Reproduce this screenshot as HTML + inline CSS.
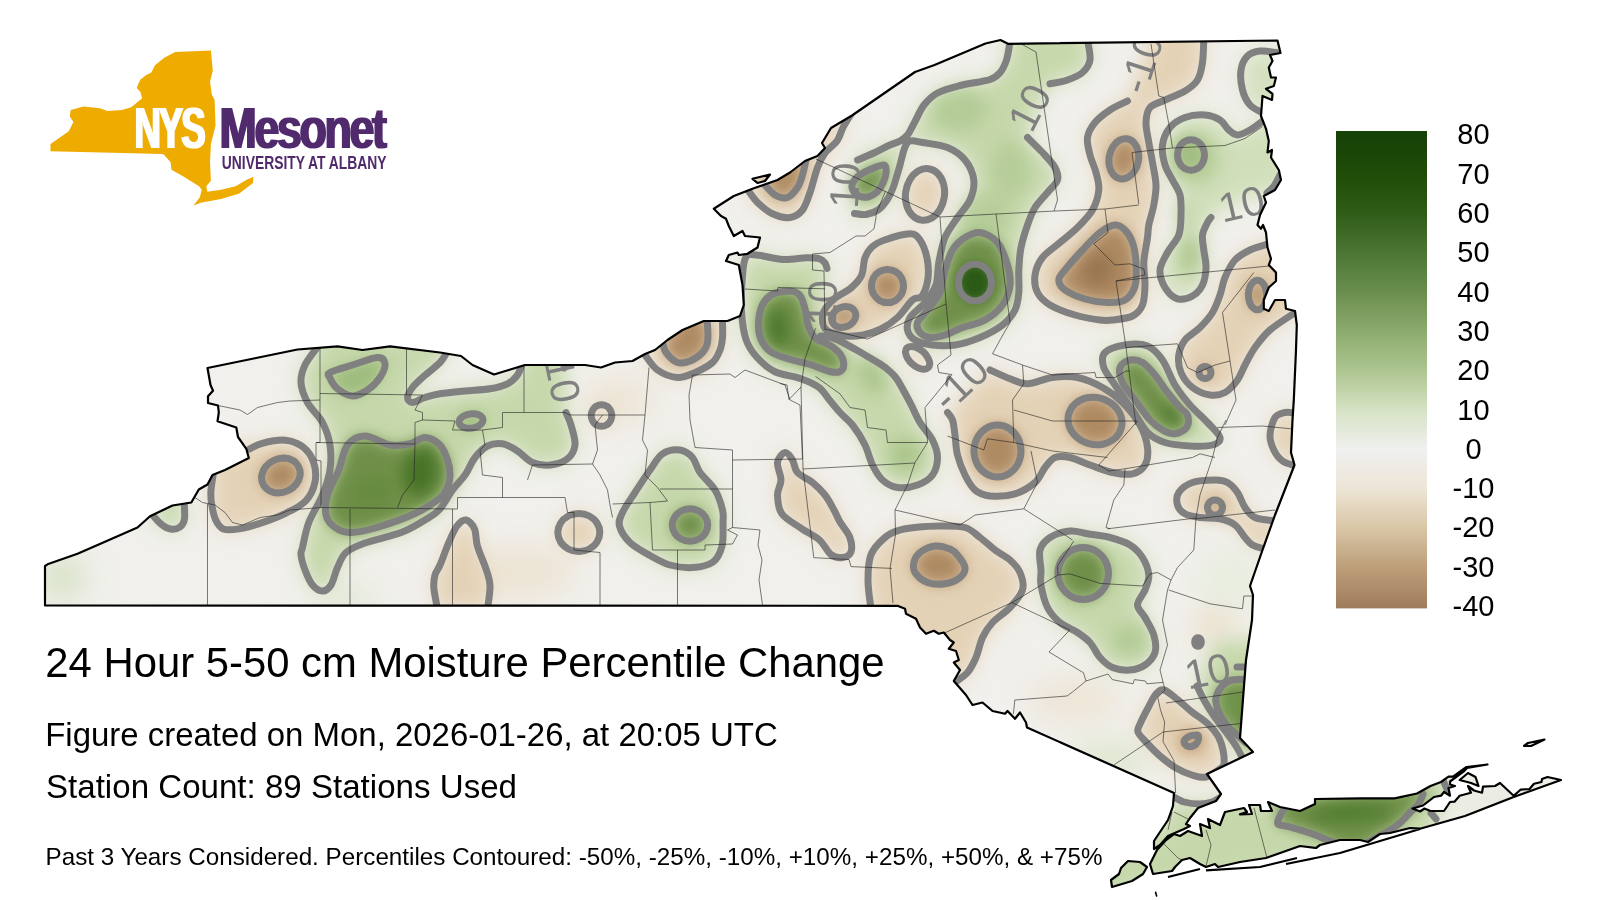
<!DOCTYPE html>
<html><head><meta charset="utf-8"><title>NYS Mesonet 24 Hour 5-50 cm Moisture Percentile Change</title>
<style>html,body{margin:0;padding:0;background:#fff}body{width:1600px;height:900px;overflow:hidden}svg{display:block}text{font-family:"Liberation Sans",sans-serif}</style></head>
<body>
<svg width="1600" height="900" viewBox="0 0 1600 900">
<defs>
<clipPath id="st"><path d="M45 605.5 L45 566 L47.5 564.3 L77.5 553.8 L137.5 527.5 L150 516.3 L172.5 505.5 L191.3 502.5 L198.8 489.5 L207.5 484.5 L212.5 475 L225 470 L248.8 458 L246.3 448.8 L238 437 L236.3 427.5 L217.5 421.3 L218.8 412.5 L218 405.5 L208 403 L208 396.3 L213 390.8 L210.5 385 L207.5 368 L297.5 349.5 L337.5 346.3 L362.5 350 L390 346.3 L440 352.5 L461 356 L472.5 365 L494 374.5 L525 365 L585 365 L601 367.5 L615 362.5 L632.5 361 L645 354 L655 350 L667.5 340 L682.5 330 L703.8 321 L727.5 321 L740 316 L743.8 305 L742.5 285 L738.8 265 L726 261 L728.8 255 L737.5 252.5 L738.8 255 L747.5 253.8 L757.5 247.5 L760 237.5 L745 236 L742.5 231 L733.8 236 L728.8 226 L726 218.8 L721 216 L713.8 208.8 L733.8 196 L752.5 188.8 L777.5 180 L790 172.5 L805 161 L817.5 156 L825 148 L822 143 L831 128 L852 115.5 L915 72 L934.5 65 L985.5 43.5 L1000.5 40 L1008 43.8 L1277.5 40.5 L1280.5 53 L1270 55 L1272.5 61 L1268.8 67.5 L1271 77.5 L1276 77.5 L1273.8 86 L1266 88.8 L1272.5 93.8 L1272 100 L1262.5 96 L1261 116 L1266 128.8 L1268.8 141 L1267.5 152.5 L1272 150 L1271 157.5 L1278.8 170 L1281 180 L1275 190 L1263.8 196 L1266 202.5 L1260 215 L1257.5 225 L1261 228.8 L1263 225 L1266 232.5 L1267.5 247.5 L1271 258.8 L1268.8 265 L1276 272.5 L1276 281 L1268.8 287.5 L1263.8 300 L1263.8 308.8 L1268.8 311 L1275 300 L1285 300 L1286 308.8 L1295 311 L1296.8 325 L1296 350 L1293.8 400 L1292.5 420 L1291 452.5 L1294.5 465 L1275 515 L1262.5 550 L1250 586 L1253 595 L1252 620 L1246 660 L1240 738 L1253 752 L1207 774 L1221 794 L1216 801 L1198 808 L1190 818 L1186 824 L1190 826 L1184 829 L1168 836 L1160 845 L1154 849 L1154 841 L1168 820 L1173 806 L1174 793 L1027 727.5 L1026 722.5 L1020 712.5 L1015 718.8 L1007.5 711 L1005 713.8 L992.5 711 L982.5 702.5 L972.5 705 L966 695 L953.8 681 L960 670 L953.8 662.5 L958.8 660 L956 651 L948.8 648.8 L953.8 642.5 L950 640 L943.8 632.5 L938.8 633.8 L933.8 630.8 L926 633.8 L920 627.5 L916 618.8 L906 613.8 L905 608.8 L897.5 605.8ZM1153 874 L1150 864 L1157 850 L1166 840 L1174 834 L1180 836 L1188 831 L1202 836 L1200 824 L1210 828 L1208 819 L1220 825 L1225 812 L1244 808 L1247 812 L1240 814.4 L1252 814 L1249 805 L1260 805 L1261 811 L1272 811 L1268 802 L1280 807 L1300 811 L1315 804 L1315 799 L1360 798.3 L1394.5 798.3 L1417 793.5 L1430.5 786 L1441 782 L1448.5 776.7 L1453 776.7 L1466.5 767 L1487.5 764.5 L1467 768 L1463.5 771.7 L1450 781.5 L1450 784.5 L1455 786 L1448.5 788 L1450 795.7 L1444 792 L1441 795.7 L1434 797 L1423 805.5 L1412.5 808.5 L1420 811.5 L1424.5 808.5 L1430.5 811 L1444 811 L1450 802 L1454.5 801.7 L1459.7 795.7 L1471 792.7 L1468 786 L1474 790.5 L1482 792.7 L1483 786.7 L1495 786 L1500 783 L1513.7 795.7 L1520.5 789.7 L1529.5 789 L1534 783.7 L1541.5 782 L1542 779 L1547.5 777 L1561 780 L1513.7 797 L1465 816 L1420 828.7 L1410 828 L1390 833 L1380 834 L1368 842 L1360 840 L1340 840 L1320 845 L1316 848 L1300 846 L1266 858 L1240 862 L1218 867 L1215 864 L1206 867 L1200 864 L1190 858 L1182 860 L1175 867 L1172 871ZM1459.7 780 L1468 773 L1475.5 777 L1478.5 786 L1471 783ZM1524 746 L1528 743 L1544.5 739.5 L1531 746ZM1111 880 L1119 874 L1121 868 L1128 861 L1140 862 L1147 867 L1143 874 L1132 881 L1112 887ZM752.5 178.8 L770 174.5 L765 181 L757.5 183Z"/></clipPath>
<filter id="b10" x="0" y="0" width="1600" height="900" filterUnits="userSpaceOnUse"><feGaussianBlur stdDeviation="10"/></filter>
<filter id="b25" x="0" y="0" width="1600" height="900" filterUnits="userSpaceOnUse"><feGaussianBlur stdDeviation="7.5"/></filter>
<filter id="b50" x="0" y="0" width="1600" height="900" filterUnits="userSpaceOnUse"><feGaussianBlur stdDeviation="5"/></filter>
<filter id="bm10" x="0" y="0" width="1600" height="900" filterUnits="userSpaceOnUse"><feGaussianBlur stdDeviation="10"/></filter>
<filter id="bm25" x="0" y="0" width="1600" height="900" filterUnits="userSpaceOnUse"><feGaussianBlur stdDeviation="7.5"/></filter>
<filter id="bx" x="0" y="0" width="1600" height="900" filterUnits="userSpaceOnUse"><feGaussianBlur stdDeviation="14"/></filter>
<linearGradient id="cb" x1="0" y1="0" x2="0" y2="1">
<stop offset="0.0082" stop-color="#164208"/>
<stop offset="0.0905" stop-color="#1f4d08"/>
<stop offset="0.1728" stop-color="#2f5d18"/>
<stop offset="0.2551" stop-color="#4c7634"/>
<stop offset="0.3374" stop-color="#6a8e4e"/>
<stop offset="0.4198" stop-color="#8cab6e"/>
<stop offset="0.5021" stop-color="#adc590"/>
<stop offset="0.5844" stop-color="#d6e2c4"/>
<stop offset="0.6667" stop-color="#f0f0f0"/>
<stop offset="0.7490" stop-color="#ede5d6"/>
<stop offset="0.8313" stop-color="#d9c6a6"/>
<stop offset="0.9136" stop-color="#bd9f7a"/>
<stop offset="0.9959" stop-color="#a07d5c"/>
</linearGradient>
</defs>
<rect width="1600" height="900" fill="#fff"/>
<g clip-path="url(#st)">
<rect width="1600" height="900" fill="#f1f0ec"/>
<g filter="url(#bx)">
<ellipse cx="62" cy="578" rx="22" ry="22" fill="#d3e0c0" opacity="0.9"/>
<ellipse cx="520" cy="572" rx="55" ry="25" fill="#ece2d0" opacity="0.9"/>
<ellipse cx="620" cy="400" rx="35" ry="22" fill="#ece2d0" opacity="0.8"/>
<ellipse cx="960" cy="610" rx="45" ry="30" fill="#ece2d0" opacity="0.7"/>
<ellipse cx="1075" cy="700" rx="45" ry="22" fill="#ece2d0" opacity="0.8"/>
<ellipse cx="1215" cy="625" rx="22" ry="18" fill="#ecdfca" opacity="0.9"/>
<ellipse cx="690" cy="505" rx="30" ry="25" fill="#d9e4c8" opacity="0.5"/>
<ellipse cx="1110" cy="760" rx="40" ry="18" fill="#dbe5cb" opacity="0.9"/>
<ellipse cx="345" cy="600" rx="30" ry="12" fill="#dbe5cb" opacity="0.8"/>
<ellipse cx="1230" cy="580" rx="30" ry="30" fill="#e4ecd8" opacity="0.7"/>
<ellipse cx="1500" cy="800" rx="70" ry="20" fill="#e9ebe1" opacity="1"/>
</g>
<path filter="url(#b10)" fill="#c6d8ab" fill-rule="evenodd" d="M150 512C151.8 514 157.6 521.2 161 524C164.4 526.8 167.3 528.5 170.5 529C173.7 529.5 177.7 528.7 180 527C182.3 525.3 183.8 523.5 184.5 519C185.2 514.5 184.1 503.2 184 500L170 490ZM317.5 347C315.4 350 307.8 359.1 305 365C302.2 370.9 300.6 376.2 301 382.5C301.4 388.8 303.9 395.8 307.5 402.5C311.1 409.2 318.8 415.4 322.5 422.5C326.2 429.6 328.8 437.1 330 445C331.2 452.9 331.2 461.7 330 470C328.8 478.3 326 486.2 322.5 495C319 503.8 312.1 513.8 308.8 522.5C305.5 531.2 303.8 542.1 302.5 547.5C301.2 552.9 300.6 551.2 301 555C301.4 558.8 303.1 565 305 570C306.9 575 309.6 581.5 312.5 585C315.4 588.5 319.4 591 322.5 591C325.6 591 328.5 588.9 331 585C333.5 581.1 335 572.9 337.5 567.5C340 562.1 341.4 556.6 346 552.5C350.6 548.4 355.6 546.4 365 543C374.4 539.6 392.1 536.1 402.5 532C412.9 527.9 421.2 522.3 427.5 518.5C433.8 514.7 435.8 513.8 440 509C444.2 504.2 448.3 495.7 452.5 490C456.7 484.3 461.2 480.4 465 475C468.8 469.6 471.2 462.3 475 457.5C478.8 452.7 482.9 448.3 487.5 446C492.1 443.7 497.5 443 502.5 443.8C507.5 444.6 512.5 447.9 517.5 451C522.5 454.1 527.1 460.2 532.5 462.5C537.9 464.8 544.2 465.6 550 465C555.8 464.4 563.3 462.1 567.5 458.8C571.7 455.5 574.4 450.6 575 445C575.6 439.4 572.5 430.4 571 425C569.5 419.6 566.8 414.6 566 412.5L565 340L317 330ZM447 352 L440 362.5 L422.5 377.5 L412.5 387.5 L407.5 397.5 L412.5 402.5 L425 397.5 L440 393.8 L465 391 L490 388.8 L507.5 383.8 L517.5 375 L522 364 L522 340 L447 335ZM827 268.5C826.7 267.6 826.3 264.6 825 263C823.7 261.4 822.1 259.6 819 258.7C815.9 257.8 812.5 257.7 806.5 257.8C800.5 257.9 791.3 260 783 259.5C774.7 259 762.9 255.4 756.7 255C750.5 254.6 748.4 253.6 746 257C743.6 260.4 743.2 266.5 742.5 275.5C741.8 284.5 740.9 300.3 741.5 311C742.1 321.7 743.5 331.8 746 339.5C748.5 347.2 752 351.7 756.7 357C761.5 362.3 767.1 367.9 774.5 371.5C781.9 375.1 793.6 376 801 378.7C808.4 381.4 814.2 383.9 819 387.5C823.8 391.1 826 395.8 829.5 400C833 404.2 836.2 408.3 840 412.5C843.8 416.7 848.3 419.6 852.5 425C856.7 430.4 861.7 438.3 865 445C868.3 451.7 869.6 459.2 872.5 465C875.4 470.8 878.3 476.2 882.5 480C886.7 483.8 891.7 486.7 897.5 487.5C903.3 488.3 911.7 487.1 917.5 485C923.3 482.9 929.2 479.6 932.5 475C935.8 470.4 937.5 463.3 937.5 457.5C937.5 451.7 935.4 445.8 932.5 440C929.6 434.2 923.8 428.8 920 422.5C916.2 416.2 913.8 409.6 910 402.5C906.2 395.4 900.8 385.2 897.5 380C894.2 374.8 892.8 374.1 890 371.5C887.2 368.9 885.5 367.4 881 364.5C876.5 361.6 869.2 357.4 863 353.8C856.8 350.2 849.4 345.8 843.8 343C838.2 340.2 833.4 338.2 829.5 337C825.6 335.8 822.2 336.2 820.7 336ZM680 450C675 449.4 667.5 450.5 662.5 453.8C657.5 457.1 654.6 463.6 650 470C645.4 476.4 639.6 485.4 635 492.5C630.4 499.6 625.1 506.9 622.5 512.5C619.9 518.1 618.2 521 619.5 526C620.8 531 624.9 537.6 630 542.5C635.1 547.4 643.3 551.8 650 555.5C656.7 559.2 662.8 563 670 565C677.2 567 685.8 568 693 567.5C700.2 567 708.2 565.6 713 562C717.8 558.4 720.3 552.5 722 546C723.7 539.5 722.9 529 723 523C723.1 517 723.8 515.5 722.5 510C721.2 504.5 718.8 496.2 715 490C711.2 483.8 703.8 477.9 700 472.5C696.2 467.1 695.8 461.2 692.5 457.5C689.2 453.8 685 450.6 680 450ZM1010 40C1009.9 42.5 1010.1 41.7 1009.5 45C1008.9 48.3 1008 55.5 1006.5 60C1005 64.5 1003.2 68.8 1000.5 72C997.8 75.2 996.8 77.2 990 79.5C983.2 81.8 968.8 83.2 960 85.5C951.2 87.8 943.5 89.8 937.5 93C931.5 96.2 927.8 100.2 924 105C920.2 109.8 917.8 116.5 915 121.5C912.2 126.5 910 131.8 907.5 135C905 138.2 899.5 140 900 141C900.5 142 906.8 140.8 910.5 141C914.2 141.2 916.3 141.4 922.5 142.5C928.7 143.6 940.4 144.6 947.5 147.5C954.6 150.4 960.6 154.6 965 160C969.4 165.4 973 173.3 973.8 180C974.6 186.7 972.7 193.8 970 200C967.3 206.2 961.7 211.2 957.5 217.5C953.3 223.8 948.1 230 945 237.5C941.9 245 940.3 254.6 938.8 262.5C937.3 270.4 938.3 278.3 936 285C933.7 291.7 929.3 297.1 925 302.5C920.7 307.9 912.9 312.9 910 317.5C907.1 322.1 906.7 326.2 907.5 330C908.3 333.8 910.8 337.5 915 340C919.2 342.5 925.8 344.2 932.5 345C939.2 345.8 947.1 346.2 955 345C962.9 343.8 972.1 340.8 980 337.5C987.9 334.2 996.7 329.6 1002.5 325C1008.3 320.4 1012.3 315.4 1015 310C1017.7 304.6 1018.2 299.2 1018.8 292.5C1019.4 285.8 1018.4 277.5 1018.8 270C1019.2 262.5 1019.5 255 1021 247.5C1022.5 240 1025.2 231.7 1027.5 225C1029.8 218.3 1031.7 212.9 1035 207.5C1038.3 202.1 1043.8 197.1 1047.5 192.5C1051.2 187.9 1056.2 184.2 1057.5 180C1058.8 175.8 1057.5 172.1 1055 167.5C1052.5 162.9 1047.1 157.5 1042.5 152.5C1037.9 147.5 1026.2 148.9 1027.5 137.5C1028.8 126 1043.3 93.4 1050 83.8C1056.7 74.2 1062.1 81.9 1067.5 80C1072.9 78.1 1078.8 75.8 1082.5 72.5C1086.2 69.2 1089.2 65.4 1090 60C1090.8 54.6 1087.8 45 1087.5 40C1087.2 35 1100.9 31.7 1088 30C1075.1 28.3 1023 28.3 1010 30C997 31.7 1010.1 37.5 1010 40ZM857.5 160C860.9 149.8 869.6 155 875 152.5C880.4 150 885.8 146.9 890 145C894.2 143.1 897.1 142.7 900 141C902.9 139.3 906.7 134 907.5 135C908.3 136 906.2 142 905 147C903.8 152 901.4 160 900 165C898.6 170 897.7 173.2 896.5 177C895.3 180.8 894.6 184.2 893 188C891.4 191.8 889.5 196.3 887 200C884.5 203.7 881.5 207.6 878 210C874.5 212.4 869.9 213.9 866 214.5C862.1 215.1 855.9 222.6 854.5 213.5C853.1 204.4 854.1 170.2 857.5 160ZM1125 345C1132.1 343.9 1141.2 343.5 1147.5 346C1153.8 348.5 1157.9 353.5 1162.5 360C1167.1 366.5 1170.4 377.5 1175 385C1179.6 392.5 1184.6 398.8 1190 405C1195.4 411.2 1202.5 417.1 1207.5 422.5C1212.5 427.9 1219.2 433.8 1220 437.5C1220.8 441.2 1217.5 443.6 1212.5 445C1207.5 446.4 1197.9 446.4 1190 446C1182.1 445.6 1172.1 444.8 1165 442.5C1157.9 440.2 1152.9 437.9 1147.5 432.5C1142.1 427.1 1137.9 417.9 1132.5 410C1127.1 402.1 1119.8 392.1 1115 385C1110.2 377.9 1105.5 372.9 1103.8 367.5C1102.1 362.1 1101.5 356.2 1105 352.5C1108.5 348.8 1117.9 346.1 1125 345ZM1070 531C1063.8 531.6 1055 534.3 1050 537.5C1045 540.7 1041.5 544.6 1040 550C1038.5 555.4 1040.8 564.2 1041 570C1041.2 575.8 1039.9 578.8 1041 585C1042.1 591.2 1044.3 601.2 1047.5 607.5C1050.7 613.8 1055 618.3 1060 622.5C1065 626.7 1072.5 629.2 1077.5 632.5C1082.5 635.8 1086.2 638.3 1090 642.5C1093.8 646.7 1096.2 653.3 1100 657.5C1103.8 661.7 1107.5 665.4 1112.5 667.5C1117.5 669.6 1124.6 670.4 1130 670C1135.4 669.6 1140.8 667.9 1145 665C1149.2 662.1 1153.5 657.5 1155 652.5C1156.5 647.5 1155.5 640.8 1153.8 635C1152.1 629.2 1147.7 622.5 1145 617.5C1142.3 612.5 1137.5 609.6 1137.5 605C1137.5 600.4 1143.1 595 1145 590C1146.9 585 1149.2 580.4 1148.8 575C1148.4 569.6 1145.6 562.5 1142.5 557.5C1139.4 552.5 1135.4 548.3 1130 545C1124.6 541.7 1117.1 539.4 1110 537.5C1102.9 535.6 1094.2 534.9 1087.5 533.8C1080.8 532.7 1076.2 530.4 1070 531ZM1197 686C1198.2 688.3 1201.2 695 1204 700C1206.8 705 1210.3 710.7 1214 716C1217.7 721.3 1222.3 727 1226 732C1229.7 737 1233.2 741.5 1236 746C1238.8 750.5 1241.8 756.8 1243 759L1300 760L1300 640L1215 640L1205 665ZM1172 796C1174 797 1179.3 800.7 1184 802C1188.7 803.3 1195.3 804 1200 804C1204.7 804 1208.5 803.2 1212 802C1215.5 800.8 1219.5 797.8 1221 797L1260 800L1400 780L1447 770L1447 795L1436 815L1436 835L1380 860L1090 900L1090 850L1160 830Z"/>
<path filter="url(#b10)" fill="#d0dfba" fill-rule="evenodd" d="M1264 120C1261.7 121.7 1254.4 127.5 1250 130C1245.6 132.5 1241 135 1237.5 135C1234 135 1231.7 132.5 1228.8 130C1225.9 127.5 1224 122.5 1220 120C1216 117.5 1210.8 115.4 1205 115C1199.2 114.6 1190.8 115.4 1185 117.5C1179.2 119.6 1173.8 122.9 1170 127.5C1166.2 132.1 1163.3 138.8 1162.5 145C1161.7 151.2 1163.3 159.2 1165 165C1166.7 170.8 1170 175 1172.5 180C1175 185 1178.6 189.2 1180 195C1181.4 200.8 1181.2 208.3 1181 215C1180.8 221.7 1181 228.8 1178.8 235C1176.5 241.2 1170.6 246.7 1167.5 252.5C1164.4 258.3 1160.4 264.2 1160 270C1159.6 275.8 1162.1 282.7 1165 287.5C1167.9 292.3 1172.9 297.4 1177.5 298.8C1182.1 300.2 1188.3 298.3 1192.5 296C1196.7 293.7 1200.2 289.8 1202.5 285C1204.8 280.2 1205.8 273.3 1206 267.5C1206.2 261.7 1204.4 255.4 1203.8 250C1203.2 244.6 1201.9 239.6 1202.5 235C1203.1 230.4 1206.1 225.4 1207.5 222.5C1208.9 219.6 1210.4 218.3 1211 217.5L1240 200L1290 188L1290 120Z"/>
<path filter="url(#b10)" fill="#d4e1c0" fill-rule="evenodd" d="M1276 52.5C1273.3 52.2 1264.8 50.4 1260 51C1255.2 51.6 1250.7 52.8 1247.5 56C1244.3 59.2 1241.8 64.3 1241 70C1240.2 75.7 1241 84.2 1242.5 90C1244 95.8 1246.6 101.2 1250 105C1253.4 108.8 1260.8 111.7 1263 113L1290 110L1290 50Z"/>
<path filter="url(#bm10)" fill="#e4d2b6" fill-rule="evenodd" d="M213 475.5C212.7 478.2 211.1 486.8 210.9 491.5C210.7 496.2 210.8 499.3 211.6 504C212.4 508.7 213.6 515.4 215.5 519.5C217.4 523.6 219.4 527.3 223.3 528.9C227.2 530.5 232.4 529.9 238.9 528.9C245.4 527.9 254.4 525.2 262.2 522.6C270 520 278.2 516.9 285.5 513.3C292.8 509.7 300.8 506.1 305.7 500.9C310.6 495.7 313.7 488.5 315 482C316.3 475.5 315.5 467.8 313.5 462C311.5 456.2 307.7 450.6 303 447C298.3 443.4 292.3 440.8 285.5 440.2C278.7 439.6 268.2 441.8 262.2 443.3C256.2 444.8 251.6 448.1 249.5 449L252 440L225 455L205 470ZM611.8 415.5C611.8 417.3 611.3 419.3 610.4 420.9C609.6 422.5 608.1 424 606.6 424.9C605.2 425.8 603.2 426.3 601.5 426.3C599.8 426.3 597.8 425.8 596.4 424.9C594.9 424 593.4 422.5 592.6 420.9C591.7 419.3 591.2 417.3 591.2 415.5C591.2 413.7 591.7 411.7 592.6 410.1C593.4 408.5 594.9 407 596.4 406.1C597.8 405.2 599.8 404.7 601.5 404.7C603.2 404.7 605.2 405.2 606.6 406.1C608.1 407 609.6 408.5 610.4 410.1C611.3 411.7 611.8 413.7 611.8 415.5ZM645 355C647.1 357.5 652.1 366.2 657.5 370C662.9 373.8 671.2 377.1 677.5 377.5C683.8 377.9 689.2 375 695 372.5C700.8 370 708.3 366.2 712.5 362.5C716.7 358.8 718.3 354.2 720 350C721.7 345.8 722.1 342.1 722.5 337.5C722.9 332.9 722.6 326.1 722.5 322.5C722.4 318.9 722.1 317.1 722 316L680 310ZM599.8 532.5C599.8 535.7 598.7 539.3 597 542C595.2 544.8 592.3 547.4 589.3 549C586.3 550.6 582.3 551.6 578.8 551.6C575.3 551.6 571.3 550.6 568.3 549C565.3 547.4 562.4 544.8 560.6 542C558.9 539.3 557.8 535.7 557.8 532.5C557.8 529.3 558.9 525.7 560.6 523C562.4 520.2 565.3 517.6 568.3 516C571.3 514.4 575.3 513.4 578.8 513.4C582.3 513.4 586.3 514.4 589.3 516C592.3 517.6 595.2 520.2 597 523C598.7 525.7 599.8 529.3 599.8 532.5ZM437.5 609C436.9 605.4 434.2 593.2 433.8 587.5C433.4 581.8 434 578.8 435 575C436 571.2 437.7 570.3 440 565C442.3 559.7 445.8 549.5 448.6 543C451.4 536.5 454.1 529.8 457 526C459.9 522.2 463.1 519.5 466 520C468.9 520.5 472.6 524.5 474.5 528.8C476.4 533.1 475.5 539.3 477.4 546C479.3 552.7 483.9 562.3 486 569C488.1 575.7 489.8 579.3 490 586C490.2 592.7 487.9 605.2 487.5 609ZM785 452.5C782.5 452.9 778.2 457.9 777.5 462.5C776.8 467.1 781 474.6 781 480C781 485.4 777.3 489.3 777.5 495C777.7 500.7 777.9 508.4 782 514C786.1 519.6 795.8 524.5 802 528.8C808.2 533.1 814.7 535.7 819.5 540C824.3 544.3 827.2 551.7 831 554.6C834.8 557.5 839.2 558 842.5 557.5C845.8 557 849.8 555.2 851 551.8C852.2 548.4 851.5 542 849.7 537C847.9 532 842.6 526.5 840 522C837.4 517.5 836.5 514.5 834 510C831.5 505.5 828.6 499.6 825 495C821.4 490.4 817.1 486.2 812.5 482.5C807.9 478.8 800.8 476.2 797.5 472.5C794.2 468.8 794.6 463.3 792.5 460C790.4 456.7 787.5 452.1 785 452.5ZM747 189C748.8 191.2 753.2 198.4 757.5 202.5C761.8 206.6 767.1 211.3 772.5 213.8C777.9 216.3 785 218.1 790 217.5C795 216.9 799.2 214.2 802.5 210C805.8 205.8 807.5 199.6 810 192.5C812.5 185.4 815 174.1 817.5 167.5C820 160.9 821.8 157.4 825 153C828.2 148.6 834 145.2 837 141C840 136.8 840.7 132 843 127.5C845.3 123 849.7 116.2 851 114L780 140ZM944.3 197.1C943.7 201.4 942 206.1 939.9 209.6C937.8 213.1 934.6 216.3 931.5 218.1C928.4 219.8 924.6 220.6 921.4 220.1C918.2 219.7 914.7 217.9 912.2 215.3C909.7 212.8 907.6 208.9 906.5 204.9C905.4 201 905.1 196 905.7 191.7C906.3 187.4 908 182.7 910.1 179.2C912.2 175.7 915.4 172.5 918.5 170.7C921.6 169 925.4 168.2 928.6 168.7C931.8 169.1 935.3 170.9 937.8 173.5C940.3 176 942.4 179.9 943.5 183.9C944.6 187.8 944.9 192.8 944.3 197.1ZM910 233.8C904.1 233.8 891 237.8 884.7 240C878.4 242.2 875.3 244 872 247C868.7 250 866.8 253.1 865 257.8C863.2 262.6 863.8 270.5 861.5 275.5C859.2 280.5 855.1 284.4 851 288C846.9 291.6 840.9 293.8 836.7 297C832.5 300.2 828.4 304.2 826 307.5C823.6 310.8 822.8 313.2 822.5 316.5C822.2 319.8 822.6 324.3 824 327C825.4 329.7 827.4 331 831 332.5C834.6 334 840.2 335.6 845.5 336C850.8 336.4 857.1 336.2 863 335C868.9 333.8 875.2 331.9 881 329C886.8 326.1 892.2 322.3 897.5 317.5C902.8 312.7 908.4 303.6 912.5 300C916.6 296.4 919.4 299.7 922 296C924.6 292.3 927.2 284.3 928 278C928.8 271.7 928.3 264.3 927 258C925.7 251.7 922.8 244 920 240C917.2 236 915.9 233.8 910 233.8ZM928.4 367.5C927.5 368.5 925.9 369.2 924.2 369.2C922.5 369.3 920.2 368.8 918.2 367.9C916.2 367 913.9 365.5 912.1 363.9C910.3 362.3 908.6 360.1 907.5 358.2C906.4 356.3 905.6 354.1 905.5 352.4C905.4 350.8 905.9 349.1 906.8 348.1C907.7 347.1 909.3 346.4 911 346.4C912.7 346.3 915 346.8 917 347.7C919 348.6 921.3 350.1 923.1 351.7C924.9 353.3 926.6 355.5 927.7 357.4C928.8 359.3 929.6 361.5 929.7 363.2C929.8 364.8 929.3 366.5 928.4 367.5ZM1127.5 101C1124.6 102.5 1115.4 106.4 1110 110C1104.6 113.6 1098.8 117.9 1095 122.5C1091.2 127.1 1088.3 132.1 1087.5 137.5C1086.7 142.9 1088.6 149.2 1090 155C1091.4 160.8 1094.5 166.7 1096 172.5C1097.5 178.3 1099.4 183.8 1098.8 190C1098.2 196.2 1096 203.8 1092.5 210C1089 216.2 1082.9 222.1 1077.5 227.5C1072.1 232.9 1065.8 237.5 1060 242.5C1054.2 247.5 1046.7 252.1 1042.5 257.5C1038.3 262.9 1035.8 269.2 1035 275C1034.2 280.8 1035 287.5 1037.5 292.5C1040 297.5 1043.8 301.2 1050 305C1056.2 308.8 1066.7 312.5 1075 315C1083.3 317.5 1093.8 319.2 1100 320C1106.2 320.8 1107.1 320.7 1112.5 320C1117.9 319.3 1127.5 318.5 1132.5 316C1137.5 313.5 1140.4 310.2 1142.5 305C1144.6 299.8 1144.8 292.1 1145 285C1145.2 277.9 1143.4 270.4 1143.8 262.5C1144.2 254.6 1146.7 243.8 1147.5 237.5C1148.3 231.2 1147.8 230.4 1148.8 225C1149.8 219.6 1152.6 211.7 1153.8 205C1155 198.3 1156.2 192.1 1156 185C1155.8 177.9 1153.7 169.6 1152.5 162.5C1151.3 155.4 1149.9 149.2 1148.8 142.5C1147.7 135.8 1145.8 128.3 1146 122.5C1146.2 116.7 1146.8 111.2 1150 107.5C1153.2 103.8 1159.2 102.8 1165 100C1170.8 97.2 1179.6 94.3 1185 91C1190.4 87.7 1194.6 84.8 1197.5 80C1200.4 75.2 1201.5 69.5 1202.5 62.5C1203.5 55.5 1203.6 42.1 1203.8 38L1203 25L1150 25L1150 44ZM1268 244C1265 245 1255.5 247.3 1250 250C1244.5 252.7 1239.2 255.4 1235 260C1230.8 264.6 1227.5 271.7 1225 277.5C1222.5 283.3 1222.1 289.2 1220 295C1217.9 300.8 1215.8 307.1 1212.5 312.5C1209.2 317.9 1204.6 322.9 1200 327.5C1195.4 332.1 1188.5 335.4 1185 340C1181.5 344.6 1179.5 349.6 1178.8 355C1178.1 360.4 1178.7 367.1 1181 372.5C1183.3 377.9 1187.7 383.8 1192.5 387.5C1197.3 391.2 1204.6 394.2 1210 395C1215.4 395.8 1220.4 395 1225 392.5C1229.6 390 1234.2 384.6 1237.5 380C1240.8 375.4 1242.1 370.4 1245 365C1247.9 359.6 1250.8 353.3 1255 347.5C1259.2 341.7 1263.2 335.9 1270 330C1276.8 324.1 1291.7 315 1296 312L1310 300L1300 240ZM947.5 412.5C948.3 413.8 951.2 416.2 952.5 420C953.8 423.8 954.2 429.2 955 435C955.8 440.8 955.8 448.3 957.5 455C959.2 461.7 962.1 469.2 965 475C967.9 480.8 970.8 486.5 975 490C979.2 493.5 983.3 495.4 990 496C996.7 496.6 1007.5 496.1 1015 493.8C1022.5 491.6 1030 486.9 1035 482.5C1040 478.1 1041.7 471.7 1045 467.5C1048.3 463.3 1050.8 459.2 1055 457.5C1059.2 455.8 1064.2 456.2 1070 457.5C1075.8 458.8 1082.9 462.5 1090 465C1097.1 467.5 1105.4 471 1112.5 472.5C1119.6 474 1127.1 475.1 1132.5 473.8C1137.9 472.6 1142.5 469.4 1145 465C1147.5 460.6 1148.3 454.2 1147.5 447.5C1146.7 440.8 1144.2 432.5 1140 425C1135.8 417.5 1128.8 408.8 1122.5 402.5C1116.2 396.2 1110 391.7 1102.5 387.5C1095 383.3 1085.8 379.2 1077.5 377.5C1069.2 375.8 1060.8 376.4 1052.5 377.5C1044.2 378.6 1034.6 383.6 1027.5 383.8C1020.4 384 1016.2 381.1 1010 378.8C1003.8 376.5 993.3 371.5 990 370ZM1264 549C1262.1 548.3 1255.7 546.9 1252.5 545C1249.3 543.1 1247.9 540.8 1245 537.5C1242.1 534.2 1239.2 528.1 1235 525C1230.8 521.9 1225.8 520 1220 518.8C1214.2 517.5 1205.8 518.3 1200 517.5C1194.2 516.7 1188.8 515.9 1185 513.8C1181.2 511.7 1178.5 508.6 1177.5 505C1176.5 501.4 1176.3 496.2 1178.8 492.5C1181.3 488.8 1186.5 484.6 1192.5 482.5C1198.5 480.4 1209.2 480 1215 480C1220.8 480 1223.8 480.4 1227.5 482.5C1231.2 484.6 1234.6 488.3 1237.5 492.5C1240.4 496.7 1242.1 503.3 1245 507.5C1247.9 511.7 1250 515.2 1255 517.5C1260 519.8 1271.7 520.4 1275 521L1290 535ZM1296 413C1294.2 412.9 1288.5 411.8 1285 412.5C1281.5 413.2 1277.5 413.8 1275 417.5C1272.5 421.2 1270.2 429.6 1270 435C1269.8 440.4 1271.7 445.7 1273.8 450C1275.9 454.3 1278.8 458.3 1282.5 461C1286.2 463.7 1293.8 465.2 1296 466L1310 440ZM871 609C870.5 604.2 868 589.6 868 580.5C868 571.4 868.1 561.9 871 554.6C873.9 547.4 880.8 541.1 885.6 537C890.4 532.9 895.1 531.6 900 530C904.9 528.4 908.3 528.2 915 527.5C921.7 526.8 931.7 526 940 526C948.3 526 958.3 525.6 965 527.5C971.7 529.4 975 533.8 980 537.5C985 541.2 990 546.2 995 550C1000 553.8 1005.8 556.2 1010 560C1014.2 563.8 1017.9 567.5 1020 572.5C1022.1 577.5 1024.2 584.2 1022.5 590C1020.8 595.8 1015 602.1 1010 607.5C1005 612.9 997.1 617.5 992.5 622.5C987.9 627.5 985.2 631.7 982.5 637.5C979.8 643.3 978.5 651.7 976 657.5C973.5 663.3 971.2 668.2 967.5 672.5C963.8 676.8 956.2 681.2 954 683L900 690ZM1164 690C1160.3 689 1158.7 691 1156 694C1153.3 697 1150.7 703 1148 708C1145.3 713 1141.7 720 1140 724C1138.3 728 1137 729 1138 732C1139 735 1142.3 738 1146 742C1149.7 746 1155 751.7 1160 756C1165 760.3 1170.7 764.8 1176 768C1181.3 771.2 1187 773.5 1192 775C1197 776.5 1201.2 778.2 1206 777C1210.8 775.8 1218 770.2 1221 768C1224 765.8 1223.7 767 1224 764C1224.3 761 1224 754.7 1223 750C1222 745.3 1220.5 740.3 1218 736C1215.5 731.7 1212.3 728 1208 724C1203.7 720 1197 716 1192 712C1187 708 1182.7 703.7 1178 700C1173.3 696.3 1167.7 691 1164 690ZM1201.3 642C1201.3 642.7 1201.1 643.5 1200.9 644.1C1200.6 644.8 1200.1 645.4 1199.7 645.7C1199.2 646.1 1198.5 646.3 1198 646.3C1197.5 646.3 1196.8 646.1 1196.3 645.7C1195.9 645.4 1195.4 644.8 1195.1 644.1C1194.9 643.5 1194.7 642.7 1194.7 642C1194.7 641.3 1194.9 640.5 1195.1 639.9C1195.4 639.2 1195.9 638.6 1196.3 638.3C1196.8 637.9 1197.5 637.7 1198 637.7C1198.5 637.7 1199.2 637.9 1199.7 638.3C1200.1 638.6 1200.6 639.2 1200.9 639.9C1201.1 640.5 1201.3 641.3 1201.3 642Z"/>
<path filter="url(#b25)" fill="#9dbb7c" fill-rule="evenodd" d="M330 372.5C333.8 370.3 344.6 367.5 352.5 365C360.4 362.5 372.1 357.7 377.5 357.5C382.9 357.3 384.6 360.5 385 363.8C385.4 367.1 382.9 373.1 380 377.5C377.1 381.9 372.1 386.9 367.5 390C362.9 393.1 357.5 396.2 352.5 396C347.5 395.8 341.2 391.8 337.5 388.8C333.8 385.8 331.2 380.7 330 378C328.8 375.3 326.2 374.7 330 372.5Z"/>
<path filter="url(#b25)" fill="#6f9049" fill-rule="evenodd" d="M365 436C357.9 436 351.9 439.3 347.5 445C343.1 450.7 342.1 461.7 338.8 470C335.5 478.3 329.6 487.5 327.5 495C325.4 502.5 324.8 509.6 326 515C327.2 520.4 331 524.6 335 527.5C339 530.4 343.3 532.4 350 532.5C356.7 532.6 364.2 531.2 375 528C385.8 524.8 404.2 518.5 415 513.5C425.8 508.5 434.6 502.4 440 498C445.4 493.6 445.8 490.8 447.5 487C449.2 483.2 450 479.5 450 475C450 470.5 449.2 465 447.5 460C445.8 455 443.8 448.8 440 445C436.2 441.2 430 437.7 425 437.5C420 437.3 415.8 442.6 410 443.8C404.2 445.1 397.5 446.3 390 445C382.5 443.7 372.1 436 365 436ZM783 291.5C779.2 292.1 774.5 292.6 771 295C767.5 297.4 764.1 301.1 762 305.8C759.9 310.6 758.7 317.9 758.5 323.5C758.3 329.1 758.9 334.8 761 339.5C763.1 344.2 766.4 348.8 771 352C775.6 355.2 782.2 356.9 788.7 359C795.2 361.1 803.2 362.4 810 364.5C816.8 366.6 824.5 370.3 829.5 371.5C834.5 372.7 837.6 372.7 840 371.5C842.4 370.3 843.8 367.4 843.8 364.5C843.8 361.6 842.4 357.1 840 353.8C837.6 350.6 833.7 347.7 829.5 345C825.3 342.3 818.6 341.1 815 337.8C811.4 334.5 809.6 329.5 808 325C806.4 320.5 806.7 315.7 805.5 311C804.3 306.3 802.9 300.2 801 297C799.1 293.8 797 292.4 794 291.5C791 290.6 786.8 290.9 783 291.5ZM707.7 525C707.7 527.7 706.8 530.8 705.3 533.1C703.9 535.4 701.4 537.7 698.9 539C696.3 540.4 693 541.2 690 541.2C687 541.2 683.7 540.4 681.1 539C678.6 537.7 676.1 535.4 674.7 533.1C673.2 530.8 672.3 527.7 672.3 525C672.3 522.3 673.2 519.2 674.7 516.9C676.1 514.6 678.6 512.3 681.1 511C683.7 509.6 687 508.8 690 508.8C693 508.8 696.3 509.6 698.9 511C701.4 512.3 703.9 514.6 705.3 516.9C706.8 519.2 707.7 522.3 707.7 525ZM884 165C881.3 164.4 874.2 167.8 870 169.5C865.8 171.2 861.9 173.2 859 175.5C856.1 177.8 853.5 181 852.5 183.5C851.5 186 851.9 188.4 853 190.5C854.1 192.6 856.5 194.9 859 196C861.5 197.1 865 197.7 868 197C871 196.3 874.5 194.3 877 192C879.5 189.7 881.5 186.2 883 183C884.5 179.8 885.8 176 886 173C886.2 170 886.7 165.6 884 165ZM980 232.5C985.4 233.3 992.9 237.1 997.5 242.5C1002.1 247.9 1005.4 257.9 1007.5 265C1009.6 272.1 1010.8 278.3 1010 285C1009.2 291.7 1006.7 299.2 1002.5 305C998.3 310.8 991.7 316.2 985 320C978.3 323.8 969.2 325 962.5 327.5C955.8 330 950.4 333.3 945 335C939.6 336.7 934.2 337.9 930 337.5C925.8 337.1 922.1 335 920 332.5C917.9 330 916.2 326.2 917.5 322.5C918.8 318.8 923.8 315 927.5 310C931.2 305 937.1 299.2 940 292.5C942.9 285.8 942.9 277.1 945 270C947.1 262.9 949.2 255.4 952.5 250C955.8 244.6 960.4 240.4 965 237.5C969.6 234.6 974.6 231.7 980 232.5ZM1204.5 155C1204.5 157.6 1203.8 160.4 1202.7 162.7C1201.6 164.9 1199.7 167 1197.8 168.3C1195.8 169.5 1193.2 170.3 1191 170.3C1188.8 170.3 1186.2 169.5 1184.2 168.3C1182.3 167 1180.4 164.9 1179.3 162.7C1178.2 160.4 1177.5 157.6 1177.5 155C1177.5 152.4 1178.2 149.6 1179.3 147.3C1180.4 145.1 1182.3 143 1184.2 141.7C1186.2 140.5 1188.8 139.7 1191 139.7C1193.2 139.7 1195.8 140.5 1197.8 141.7C1199.7 143 1201.6 145.1 1202.7 147.3C1203.8 149.6 1204.5 152.4 1204.5 155ZM1130 360C1133.8 359.2 1138.3 360 1142.5 362.5C1146.7 365 1150.8 370 1155 375C1159.2 380 1163.3 387.1 1167.5 392.5C1171.7 397.9 1176.7 403.8 1180 407.5C1183.3 411.2 1186.3 411.8 1187.5 415C1188.7 418.2 1189.1 423.9 1187 427C1184.9 430.1 1179.1 433.3 1175 433.8C1170.9 434.3 1166.7 432.3 1162.5 430C1158.3 427.7 1154.6 425 1150 420C1145.4 415 1139.6 406.2 1135 400C1130.4 393.8 1125 387.9 1122.5 382.5C1120 377.1 1118.8 371.2 1120 367.5C1121.2 363.8 1126.2 360.8 1130 360ZM1108.5 573.5C1108.5 577.8 1107.2 582.7 1105.1 586.5C1103 590.3 1099.5 593.8 1095.9 596C1092.2 598.2 1087.4 599.5 1083.2 599.5C1079 599.5 1074.2 598.2 1070.5 596C1066.9 593.8 1063.4 590.3 1061.3 586.5C1059.2 582.7 1057.9 577.8 1057.9 573.5C1057.9 569.2 1059.2 564.3 1061.3 560.5C1063.4 556.7 1066.9 553.2 1070.5 551C1074.2 548.8 1079 547.5 1083.2 547.5C1087.4 547.5 1092.2 548.8 1095.9 551C1099.5 553.2 1103 556.7 1105.1 560.5C1107.2 564.3 1108.5 569.2 1108.5 573.5ZM1250 680C1247 680 1236.7 679 1232 680C1227.3 681 1224.7 683 1222 686C1219.3 689 1216.7 694 1216 698C1215.3 702 1216.3 705.7 1218 710C1219.7 714.3 1223 720 1226 724C1229 728 1232.7 730.8 1236 734C1239.3 737.2 1244.3 741.5 1246 743L1280 740L1280 680ZM1286 800C1262.2 804.3 1281.3 812 1280 816C1278.7 820 1276.3 822.2 1278 824C1279.7 825.8 1284.7 825.5 1290 827C1295.3 828.5 1303.3 830.7 1310 833C1316.7 835.3 1324.2 838.5 1330 841C1335.8 843.5 1339 847.2 1345 848C1351 848.8 1361 847.6 1366 846C1371 844.4 1369.8 842 1375 838.5C1380.2 835 1391.5 829.5 1397.5 825C1403.5 820.5 1407.5 815 1411 811.5C1414.5 808 1416.5 807.6 1418.5 804C1420.5 800.4 1445.1 790.7 1423 790C1400.9 789.3 1309.8 795.7 1286 800Z"/>
<path filter="url(#b25)" fill="#8fb06c" fill-rule="evenodd" d="M482.9 419.3C483.1 420.5 482.6 422 481.8 423.1C480.9 424.3 479.4 425.5 477.8 426.3C476.2 427.2 474 427.9 472 428.1C470 428.4 467.7 428.4 465.9 428C464.1 427.7 462.3 426.9 461.2 426C460.1 425.1 459.3 423.9 459.1 422.7C458.9 421.5 459.4 420 460.2 418.9C461.1 417.7 462.6 416.5 464.2 415.7C465.8 414.8 468 414.1 470 413.9C472 413.6 474.3 413.6 476.1 414C477.9 414.3 479.7 415.1 480.8 416C481.9 416.9 482.7 418.1 482.9 419.3Z"/>
<path filter="url(#bm25)" fill="#ae8a62" fill-rule="evenodd" d="M298.8 467.1C300 469.7 300.5 473 300 475.9C299.5 478.8 298 482 296 484.5C294 487 291 489.3 288 490.7C285 492.1 281.3 492.9 278.1 492.9C274.9 492.8 271.4 491.9 268.9 490.4C266.4 488.9 264.1 486.4 263 483.9C261.8 481.3 261.3 478 261.8 475.1C262.3 472.2 263.8 469 265.8 466.5C267.8 464 270.8 461.7 273.8 460.3C276.8 458.9 280.5 458.1 283.7 458.1C286.9 458.2 290.4 459.1 292.9 460.6C295.4 462.1 297.7 464.6 298.8 467.1ZM663 344C663.5 345.4 663.6 349.4 666 352.5C668.4 355.6 673.5 361.1 677.5 362.5C681.5 363.9 685.8 362.7 690 361C694.2 359.3 699.6 355.6 702.5 352.5C705.4 349.4 706.7 347.1 707.5 342.5C708.3 337.9 707.8 329.1 707.5 325C707.2 320.9 706.2 319.2 706 318L685 315ZM764 184C765.8 185.8 771.1 192.8 775 195C778.9 197.2 783.8 198.8 787.5 197.5C791.2 196.2 795 191.2 797.5 187.5C800 183.8 801.1 179.6 802.5 175C803.9 170.4 805.4 162.5 806 160L780 165ZM903.5 286C903.5 288.8 902.7 291.9 901.4 294.3C900 296.7 897.8 299 895.5 300.4C893.2 301.8 890.2 302.6 887.5 302.6C884.8 302.6 881.8 301.8 879.5 300.4C877.2 299 875 296.7 873.6 294.3C872.3 291.9 871.5 288.8 871.5 286C871.5 283.2 872.3 280.1 873.6 277.7C875 275.3 877.2 273 879.5 271.6C881.8 270.2 884.8 269.4 887.5 269.4C890.2 269.4 893.2 270.2 895.5 271.6C897.8 273 900 275.3 901.4 277.7C902.7 280.1 903.5 283.2 903.5 286ZM855 311.7C855.7 313.2 856 315.2 855.6 317C855.3 318.7 854.3 320.7 853 322.2C851.7 323.7 849.8 325.2 847.9 326.1C846 326.9 843.7 327.5 841.7 327.5C839.7 327.5 837.6 327 836 326.1C834.4 325.2 833.1 323.8 832.4 322.3C831.7 320.8 831.4 318.8 831.8 317C832.1 315.3 833.1 313.3 834.4 311.8C835.7 310.3 837.6 308.8 839.5 307.9C841.4 307.1 843.7 306.5 845.7 306.5C847.7 306.5 849.8 307 851.4 307.9C853 308.8 854.3 310.2 855 311.7ZM1138.3 161.4C1137.7 164.7 1136.3 168.3 1134.6 171C1132.9 173.7 1130.4 176.1 1128 177.4C1125.6 178.7 1122.7 179.2 1120.3 178.8C1117.9 178.4 1115.3 176.9 1113.5 174.8C1111.7 172.8 1110.2 169.7 1109.5 166.6C1108.8 163.5 1108.7 159.6 1109.3 156.2C1109.9 152.9 1111.3 149.3 1113 146.6C1114.7 143.9 1117.2 141.5 1119.6 140.2C1122 138.9 1124.9 138.4 1127.3 138.8C1129.7 139.2 1132.3 140.7 1134.1 142.8C1135.9 144.8 1137.4 147.9 1138.1 151C1138.8 154.1 1138.9 158 1138.3 161.4ZM1115 225C1110.8 225.4 1105.4 228.3 1100 232.5C1094.6 236.7 1088.3 243.8 1082.5 250C1076.7 256.2 1069 265 1065 270C1061 275 1058.8 276.7 1058.8 280C1058.8 283.3 1060.6 286.8 1065 290C1069.4 293.2 1077.9 296.9 1085 299C1092.1 301.1 1100.8 302.3 1107.5 302.5C1114.2 302.7 1120.4 302.8 1125 300C1129.6 297.2 1133.2 292.2 1135 286C1136.8 279.8 1136.4 269.8 1136 262.5C1135.6 255.2 1134.3 247.9 1132.5 242.5C1130.7 237.1 1127.9 232.9 1125 230C1122.1 227.1 1119.2 224.6 1115 225ZM1266.6 295C1266.6 297.4 1266.1 300.2 1265.4 302.4C1264.6 304.5 1263.4 306.5 1262 307.7C1260.7 309 1259 309.7 1257.5 309.7C1256 309.7 1254.3 309 1253 307.7C1251.6 306.5 1250.4 304.5 1249.6 302.4C1248.9 300.2 1248.4 297.4 1248.4 295C1248.4 292.6 1248.9 289.8 1249.6 287.6C1250.4 285.5 1251.6 283.5 1253 282.3C1254.3 281 1256 280.3 1257.5 280.3C1259 280.3 1260.7 281 1262 282.3C1263.4 283.5 1264.6 285.5 1265.4 287.6C1266.1 289.8 1266.6 292.6 1266.6 295ZM1211 372.5C1211 373.5 1210.7 374.6 1210.2 375.5C1209.7 376.4 1208.9 377.2 1208 377.7C1207.1 378.2 1206 378.5 1205 378.5C1204 378.5 1202.9 378.2 1202 377.7C1201.1 377.2 1200.3 376.4 1199.8 375.5C1199.3 374.6 1199 373.5 1199 372.5C1199 371.5 1199.3 370.4 1199.8 369.5C1200.3 368.6 1201.1 367.8 1202 367.3C1202.9 366.8 1204 366.5 1205 366.5C1206 366.5 1207.1 366.8 1208 367.3C1208.9 367.8 1209.7 368.6 1210.2 369.5C1210.7 370.4 1211 371.5 1211 372.5ZM1021 451C1021 455.3 1019.8 460.2 1017.9 464C1015.9 467.8 1012.6 471.3 1009.2 473.5C1005.9 475.7 1001.4 477 997.5 477C993.6 477 989.1 475.7 985.8 473.5C982.4 471.3 979.1 467.8 977.1 464C975.2 460.2 974 455.3 974 451C974 446.7 975.2 441.8 977.1 438C979.1 434.2 982.4 430.7 985.8 428.5C989.1 426.3 993.6 425 997.5 425C1001.4 425 1005.9 426.3 1009.2 428.5C1012.6 430.7 1015.9 434.2 1017.9 438C1019.8 441.8 1021 446.7 1021 451ZM1121.3 428C1120.3 431.8 1117.8 435.8 1114.7 438.4C1111.6 441.1 1107.2 443.3 1102.9 444.2C1098.6 445.1 1093.3 444.9 1088.9 443.7C1084.5 442.5 1079.9 440 1076.6 437.1C1073.3 434.2 1070.5 430.1 1069.2 426.3C1067.9 422.4 1067.7 417.7 1068.7 414C1069.7 410.2 1072.2 406.2 1075.3 403.6C1078.4 400.9 1082.8 398.7 1087.1 397.8C1091.4 396.9 1096.7 397.1 1101.1 398.3C1105.5 399.5 1110.1 402 1113.4 404.9C1116.7 407.8 1119.5 411.9 1120.8 415.7C1122.1 419.6 1122.3 424.3 1121.3 428ZM1222.5 507.5C1222.5 508.8 1222.1 510.2 1221.5 511.2C1220.9 512.3 1219.8 513.4 1218.8 514C1217.7 514.6 1216.2 515 1215 515C1213.8 515 1212.3 514.6 1211.2 514C1210.2 513.4 1209.1 512.3 1208.5 511.2C1207.9 510.2 1207.5 508.8 1207.5 507.5C1207.5 506.2 1207.9 504.8 1208.5 503.8C1209.1 502.7 1210.2 501.6 1211.2 501C1212.3 500.4 1213.8 500 1215 500C1216.2 500 1217.7 500.4 1218.8 501C1219.8 501.6 1220.9 502.7 1221.5 503.8C1222.1 504.8 1222.5 506.2 1222.5 507.5ZM915 572.5C917.2 575.9 922.5 580.6 927.5 582.5C932.5 584.4 939.6 584.6 945 583.8C950.4 583 956.7 580.2 960 577.5C963.3 574.8 965.4 571.2 965 567.5C964.6 563.8 960 558.1 957.5 555C955 551.9 953.8 550.5 950 549C946.2 547.5 940 545.4 935 546C930 546.6 923.5 549.8 920 552.5C916.5 555.2 914.8 558.7 914 562C913.2 565.3 912.8 569.1 915 572.5ZM1197 735C1195.2 734.7 1190.2 735.8 1188 737C1185.8 738.2 1184 740.4 1184 742C1184 743.6 1186.2 746 1188 746.5C1189.8 747 1193.2 746.2 1195 745C1196.8 743.8 1198.2 740.7 1198.5 739C1198.8 737.3 1198.8 735.3 1197 735Z"/>
<path filter="url(#b50)" fill="#2a5a12" fill-rule="evenodd" d="M991.6 282.5C991.6 285.6 990.8 289.1 989.4 291.8C988 294.4 985.7 297 983.3 298.5C980.9 300.1 977.8 301 975 301C972.2 301 969.1 300.1 966.7 298.5C964.3 297 962 294.4 960.6 291.8C959.2 289.1 958.4 285.6 958.4 282.5C958.4 279.4 959.2 275.9 960.6 273.2C962 270.6 964.3 268 966.7 266.5C969.1 264.9 972.2 264 975 264C977.8 264 980.9 264.9 983.3 266.5C985.7 268 988 270.6 989.4 273.2C990.8 275.9 991.6 279.4 991.6 282.5Z"/>
<g filter="url(#b25)">
<ellipse cx="420" cy="472" rx="17" ry="24" transform="rotate(10 420 472)" fill="#3f6f22" opacity="0.85"/>
<ellipse cx="372" cy="492" rx="22" ry="16" transform="rotate(-20 372 492)" fill="#5c8838" opacity="0.5"/>
<ellipse cx="778" cy="328" rx="9" ry="19" transform="rotate(-5 778 328)" fill="#3f6f22" opacity="0.8"/>
<ellipse cx="1350" cy="813" rx="42" ry="9" transform="rotate(-3 1350 813)" fill="#4a7a2b" opacity="0.85"/>
<ellipse cx="1172" cy="414" rx="7" ry="13" transform="rotate(-35 1172 414)" fill="#3f6f22" opacity="0.7"/>
<ellipse cx="1098" cy="270" rx="15" ry="17" transform="rotate(20 1098 270)" fill="#94704e" opacity="0.8"/>
<ellipse cx="358" cy="375" rx="14" ry="7" transform="rotate(-20 358 375)" fill="#9ab87a" opacity="0.0"/>
<ellipse cx="985" cy="215" rx="25" ry="22" transform="rotate(0 985 215)" fill="#a9c48a" opacity="0.55"/>
<ellipse cx="960" cy="110" rx="28" ry="22" transform="rotate(0 960 110)" fill="#a9c48a" opacity="0.6"/>
<ellipse cx="1010" cy="170" rx="20" ry="30" transform="rotate(0 1010 170)" fill="#a9c48a" opacity="0.55"/>
<ellipse cx="872" cy="375" rx="14" ry="20" transform="rotate(-30 872 375)" fill="#9dbb7c" opacity="0.6"/>
<ellipse cx="905" cy="455" rx="16" ry="18" transform="rotate(0 905 455)" fill="#9dbb7c" opacity="0.6"/>
<ellipse cx="1190" cy="255" rx="12" ry="20" transform="rotate(0 1190 255)" fill="#9dbb7c" opacity="0.6"/>
<ellipse cx="1195" cy="160" rx="26" ry="26" transform="rotate(0 1195 160)" fill="#b3cc96" opacity="0.7"/>
<ellipse cx="1185" cy="215" rx="10" ry="18" transform="rotate(0 1185 215)" fill="#b3cc96" opacity="0.5"/>
<ellipse cx="1130" cy="640" rx="18" ry="16" transform="rotate(0 1130 640)" fill="#a9c48a" opacity="0.6"/>
<ellipse cx="1228" cy="705" rx="8" ry="14" transform="rotate(-20 1228 705)" fill="#6f9a4c" opacity="0.6"/>
<ellipse cx="1192" cy="742" rx="15" ry="11" transform="rotate(0 1192 742)" fill="#c29c72" opacity="0.7"/>
</g>
<path d="M150 512C151.8 514 157.6 521.2 161 524C164.4 526.8 167.3 528.5 170.5 529C173.7 529.5 177.7 528.7 180 527C182.3 525.3 183.8 523.5 184.5 519C185.2 514.5 184.1 503.2 184 500M213 475.5C212.7 478.2 211.1 486.8 210.9 491.5C210.7 496.2 210.8 499.3 211.6 504C212.4 508.7 213.6 515.4 215.5 519.5C217.4 523.6 219.4 527.3 223.3 528.9C227.2 530.5 232.4 529.9 238.9 528.9C245.4 527.9 254.4 525.2 262.2 522.6C270 520 278.2 516.9 285.5 513.3C292.8 509.7 300.8 506.1 305.7 500.9C310.6 495.7 313.7 488.5 315 482C316.3 475.5 315.5 467.8 313.5 462C311.5 456.2 307.7 450.6 303 447C298.3 443.4 292.3 440.8 285.5 440.2C278.7 439.6 268.2 441.8 262.2 443.3C256.2 444.8 251.6 448.1 249.5 449M298.8 467.1C300 469.7 300.5 473 300 475.9C299.5 478.8 298 482 296 484.5C294 487 291 489.3 288 490.7C285 492.1 281.3 492.9 278.1 492.9C274.9 492.8 271.4 491.9 268.9 490.4C266.4 488.9 264.1 486.4 263 483.9C261.8 481.3 261.3 478 261.8 475.1C262.3 472.2 263.8 469 265.8 466.5C267.8 464 270.8 461.7 273.8 460.3C276.8 458.9 280.5 458.1 283.7 458.1C286.9 458.2 290.4 459.1 292.9 460.6C295.4 462.1 297.7 464.6 298.8 467.1ZM317.5 347C315.4 350 307.8 359.1 305 365C302.2 370.9 300.6 376.2 301 382.5C301.4 388.8 303.9 395.8 307.5 402.5C311.1 409.2 318.8 415.4 322.5 422.5C326.2 429.6 328.8 437.1 330 445C331.2 452.9 331.2 461.7 330 470C328.8 478.3 326 486.2 322.5 495C319 503.8 312.1 513.8 308.8 522.5C305.5 531.2 303.8 542.1 302.5 547.5C301.2 552.9 300.6 551.2 301 555C301.4 558.8 303.1 565 305 570C306.9 575 309.6 581.5 312.5 585C315.4 588.5 319.4 591 322.5 591C325.6 591 328.5 588.9 331 585C333.5 581.1 335 572.9 337.5 567.5C340 562.1 341.4 556.6 346 552.5C350.6 548.4 355.6 546.4 365 543C374.4 539.6 392.1 536.1 402.5 532C412.9 527.9 421.2 522.3 427.5 518.5C433.8 514.7 435.8 513.8 440 509C444.2 504.2 448.3 495.7 452.5 490C456.7 484.3 461.2 480.4 465 475C468.8 469.6 471.2 462.3 475 457.5C478.8 452.7 482.9 448.3 487.5 446C492.1 443.7 497.5 443 502.5 443.8C507.5 444.6 512.5 447.9 517.5 451C522.5 454.1 527.1 460.2 532.5 462.5C537.9 464.8 544.2 465.6 550 465C555.8 464.4 563.3 462.1 567.5 458.8C571.7 455.5 574.4 450.6 575 445C575.6 439.4 572.5 430.4 571 425C569.5 419.6 566.8 414.6 566 412.5M564 368 L565 362M447 352C445.8 353.8 444.1 358.2 440 362.5C435.9 366.8 427.1 373.3 422.5 377.5C417.9 381.7 415 384.2 412.5 387.5C410 390.8 407.5 395 407.5 397.5C407.5 400 409.6 402.5 412.5 402.5C415.4 402.5 420.4 398.9 425 397.5C429.6 396.1 433.3 394.9 440 393.8C446.7 392.7 456.7 391.8 465 391C473.3 390.2 482.9 390 490 388.8C497.1 387.6 502.9 386.1 507.5 383.8C512.1 381.5 515.1 378.3 517.5 375C519.9 371.7 521.2 365.8 522 364M330 372.5C333.8 370.3 344.6 367.5 352.5 365C360.4 362.5 372.1 357.7 377.5 357.5C382.9 357.3 384.6 360.5 385 363.8C385.4 367.1 382.9 373.1 380 377.5C377.1 381.9 372.1 386.9 367.5 390C362.9 393.1 357.5 396.2 352.5 396C347.5 395.8 341.2 391.8 337.5 388.8C333.8 385.8 331.2 380.7 330 378C328.8 375.3 326.2 374.7 330 372.5ZM365 436C357.9 436 351.9 439.3 347.5 445C343.1 450.7 342.1 461.7 338.8 470C335.5 478.3 329.6 487.5 327.5 495C325.4 502.5 324.8 509.6 326 515C327.2 520.4 331 524.6 335 527.5C339 530.4 343.3 532.4 350 532.5C356.7 532.6 364.2 531.2 375 528C385.8 524.8 404.2 518.5 415 513.5C425.8 508.5 434.6 502.4 440 498C445.4 493.6 445.8 490.8 447.5 487C449.2 483.2 450 479.5 450 475C450 470.5 449.2 465 447.5 460C445.8 455 443.8 448.8 440 445C436.2 441.2 430 437.7 425 437.5C420 437.3 415.8 442.6 410 443.8C404.2 445.1 397.5 446.3 390 445C382.5 443.7 372.1 436 365 436ZM482.9 419.3C483.1 420.5 482.6 422 481.8 423.1C480.9 424.3 479.4 425.5 477.8 426.3C476.2 427.2 474 427.9 472 428.1C470 428.4 467.7 428.4 465.9 428C464.1 427.7 462.3 426.9 461.2 426C460.1 425.1 459.3 423.9 459.1 422.7C458.9 421.5 459.4 420 460.2 418.9C461.1 417.7 462.6 416.5 464.2 415.7C465.8 414.8 468 414.1 470 413.9C472 413.6 474.3 413.6 476.1 414C477.9 414.3 479.7 415.1 480.8 416C481.9 416.9 482.7 418.1 482.9 419.3ZM611.8 415.5C611.8 417.3 611.3 419.3 610.4 420.9C609.6 422.5 608.1 424 606.6 424.9C605.2 425.8 603.2 426.3 601.5 426.3C599.8 426.3 597.8 425.8 596.4 424.9C594.9 424 593.4 422.5 592.6 420.9C591.7 419.3 591.2 417.3 591.2 415.5C591.2 413.7 591.7 411.7 592.6 410.1C593.4 408.5 594.9 407 596.4 406.1C597.8 405.2 599.8 404.7 601.5 404.7C603.2 404.7 605.2 405.2 606.6 406.1C608.1 407 609.6 408.5 610.4 410.1C611.3 411.7 611.8 413.7 611.8 415.5ZM645 355C647.1 357.5 652.1 366.2 657.5 370C662.9 373.8 671.2 377.1 677.5 377.5C683.8 377.9 689.2 375 695 372.5C700.8 370 708.3 366.2 712.5 362.5C716.7 358.8 718.3 354.2 720 350C721.7 345.8 722.1 342.1 722.5 337.5C722.9 332.9 722.6 326.1 722.5 322.5C722.4 318.9 722.1 317.1 722 316M663 344C663.5 345.4 663.6 349.4 666 352.5C668.4 355.6 673.5 361.1 677.5 362.5C681.5 363.9 685.8 362.7 690 361C694.2 359.3 699.6 355.6 702.5 352.5C705.4 349.4 706.7 347.1 707.5 342.5C708.3 337.9 707.8 329.1 707.5 325C707.2 320.9 706.2 319.2 706 318M827 268.5C826.7 267.6 826.3 264.6 825 263C823.7 261.4 822.1 259.6 819 258.7C815.9 257.8 812.5 257.7 806.5 257.8C800.5 257.9 791.3 260 783 259.5C774.7 259 762.9 255.4 756.7 255C750.5 254.6 748.4 253.6 746 257C743.6 260.4 743.2 266.5 742.5 275.5C741.8 284.5 740.9 300.3 741.5 311C742.1 321.7 743.5 331.8 746 339.5C748.5 347.2 752 351.7 756.7 357C761.5 362.3 767.1 367.9 774.5 371.5C781.9 375.1 793.6 376 801 378.7C808.4 381.4 814.2 383.9 819 387.5C823.8 391.1 826 395.8 829.5 400C833 404.2 836.2 408.3 840 412.5C843.8 416.7 848.3 419.6 852.5 425C856.7 430.4 861.7 438.3 865 445C868.3 451.7 869.6 459.2 872.5 465C875.4 470.8 878.3 476.2 882.5 480C886.7 483.8 891.7 486.7 897.5 487.5C903.3 488.3 911.7 487.1 917.5 485C923.3 482.9 929.2 479.6 932.5 475C935.8 470.4 937.5 463.3 937.5 457.5C937.5 451.7 935.4 445.8 932.5 440C929.6 434.2 923.8 428.8 920 422.5C916.2 416.2 913.8 409.6 910 402.5C906.2 395.4 900.8 385.2 897.5 380C894.2 374.8 892.8 374.1 890 371.5C887.2 368.9 885.5 367.4 881 364.5C876.5 361.6 869.2 357.4 863 353.8C856.8 350.2 849.4 345.8 843.8 343C838.2 340.2 833.4 338.2 829.5 337C825.6 335.8 822.2 336.2 820.7 336M783 291.5C779.2 292.1 774.5 292.6 771 295C767.5 297.4 764.1 301.1 762 305.8C759.9 310.6 758.7 317.9 758.5 323.5C758.3 329.1 758.9 334.8 761 339.5C763.1 344.2 766.4 348.8 771 352C775.6 355.2 782.2 356.9 788.7 359C795.2 361.1 803.2 362.4 810 364.5C816.8 366.6 824.5 370.3 829.5 371.5C834.5 372.7 837.6 372.7 840 371.5C842.4 370.3 843.8 367.4 843.8 364.5C843.8 361.6 842.4 357.1 840 353.8C837.6 350.6 833.7 347.7 829.5 345C825.3 342.3 818.6 341.1 815 337.8C811.4 334.5 809.6 329.5 808 325C806.4 320.5 806.7 315.7 805.5 311C804.3 306.3 802.9 300.2 801 297C799.1 293.8 797 292.4 794 291.5C791 290.6 786.8 290.9 783 291.5ZM680 450C675 449.4 667.5 450.5 662.5 453.8C657.5 457.1 654.6 463.6 650 470C645.4 476.4 639.6 485.4 635 492.5C630.4 499.6 625.1 506.9 622.5 512.5C619.9 518.1 618.2 521 619.5 526C620.8 531 624.9 537.6 630 542.5C635.1 547.4 643.3 551.8 650 555.5C656.7 559.2 662.8 563 670 565C677.2 567 685.8 568 693 567.5C700.2 567 708.2 565.6 713 562C717.8 558.4 720.3 552.5 722 546C723.7 539.5 722.9 529 723 523C723.1 517 723.8 515.5 722.5 510C721.2 504.5 718.8 496.2 715 490C711.2 483.8 703.8 477.9 700 472.5C696.2 467.1 695.8 461.2 692.5 457.5C689.2 453.8 685 450.6 680 450ZM707.7 525C707.7 527.7 706.8 530.8 705.3 533.1C703.9 535.4 701.4 537.7 698.9 539C696.3 540.4 693 541.2 690 541.2C687 541.2 683.7 540.4 681.1 539C678.6 537.7 676.1 535.4 674.7 533.1C673.2 530.8 672.3 527.7 672.3 525C672.3 522.3 673.2 519.2 674.7 516.9C676.1 514.6 678.6 512.3 681.1 511C683.7 509.6 687 508.8 690 508.8C693 508.8 696.3 509.6 698.9 511C701.4 512.3 703.9 514.6 705.3 516.9C706.8 519.2 707.7 522.3 707.7 525ZM599.8 532.5C599.8 535.7 598.7 539.3 597 542C595.2 544.8 592.3 547.4 589.3 549C586.3 550.6 582.3 551.6 578.8 551.6C575.3 551.6 571.3 550.6 568.3 549C565.3 547.4 562.4 544.8 560.6 542C558.9 539.3 557.8 535.7 557.8 532.5C557.8 529.3 558.9 525.7 560.6 523C562.4 520.2 565.3 517.6 568.3 516C571.3 514.4 575.3 513.4 578.8 513.4C582.3 513.4 586.3 514.4 589.3 516C592.3 517.6 595.2 520.2 597 523C598.7 525.7 599.8 529.3 599.8 532.5ZM437.5 609C436.9 605.4 434.2 593.2 433.8 587.5C433.4 581.8 434 578.8 435 575C436 571.2 437.7 570.3 440 565C442.3 559.7 445.8 549.5 448.6 543C451.4 536.5 454.1 529.8 457 526C459.9 522.2 463.1 519.5 466 520C468.9 520.5 472.6 524.5 474.5 528.8C476.4 533.1 475.5 539.3 477.4 546C479.3 552.7 483.9 562.3 486 569C488.1 575.7 489.8 579.3 490 586C490.2 592.7 487.9 605.2 487.5 609M785 452.5C782.5 452.9 778.2 457.9 777.5 462.5C776.8 467.1 781 474.6 781 480C781 485.4 777.3 489.3 777.5 495C777.7 500.7 777.9 508.4 782 514C786.1 519.6 795.8 524.5 802 528.8C808.2 533.1 814.7 535.7 819.5 540C824.3 544.3 827.2 551.7 831 554.6C834.8 557.5 839.2 558 842.5 557.5C845.8 557 849.8 555.2 851 551.8C852.2 548.4 851.5 542 849.7 537C847.9 532 842.6 526.5 840 522C837.4 517.5 836.5 514.5 834 510C831.5 505.5 828.6 499.6 825 495C821.4 490.4 817.1 486.2 812.5 482.5C807.9 478.8 800.8 476.2 797.5 472.5C794.2 468.8 794.6 463.3 792.5 460C790.4 456.7 787.5 452.1 785 452.5ZM747 189C748.8 191.2 753.2 198.4 757.5 202.5C761.8 206.6 767.1 211.3 772.5 213.8C777.9 216.3 785 218.1 790 217.5C795 216.9 799.2 214.2 802.5 210C805.8 205.8 807.5 199.6 810 192.5C812.5 185.4 815 174.1 817.5 167.5C820 160.9 821.8 157.4 825 153C828.2 148.6 834 145.2 837 141C840 136.8 840.7 132 843 127.5C845.3 123 849.7 116.2 851 114M764 184C765.8 185.8 771.1 192.8 775 195C778.9 197.2 783.8 198.8 787.5 197.5C791.2 196.2 795 191.2 797.5 187.5C800 183.8 801.1 179.6 802.5 175C803.9 170.4 805.4 162.5 806 160M857.5 160C860.4 158.8 869.6 155 875 152.5C880.4 150 885.8 146.9 890 145C894.2 143.1 897.1 142.7 900 141C902.9 139.3 905 138.2 907.5 135C910 131.8 912.2 126.5 915 121.5C917.8 116.5 920.2 109.8 924 105C927.8 100.2 931.5 96.2 937.5 93C943.5 89.8 951.2 87.8 960 85.5C968.8 83.2 983.2 81.8 990 79.5C996.8 77.2 997.8 75.2 1000.5 72C1003.2 68.8 1005 64.5 1006.5 60C1008 55.5 1008.9 48.3 1009.5 45C1010.1 41.7 1009.9 40.8 1010 40M854.5 213.5C856.4 213.7 862.1 215.1 866 214.5C869.9 213.9 874.5 212.4 878 210C881.5 207.6 884.5 203.7 887 200C889.5 196.3 891.4 191.8 893 188C894.6 184.2 895.3 180.8 896.5 177C897.7 173.2 898.6 170 900 165C901.4 160 903.2 151 905 147C906.8 143 907.6 141.8 910.5 141C913.4 140.2 916.3 141.4 922.5 142.5C928.7 143.6 940.4 144.6 947.5 147.5C954.6 150.4 960.6 154.6 965 160C969.4 165.4 973 173.3 973.8 180C974.6 186.7 972.7 193.8 970 200C967.3 206.2 961.7 211.2 957.5 217.5C953.3 223.8 948.1 230 945 237.5C941.9 245 940.3 254.6 938.8 262.5C937.3 270.4 938.3 278.3 936 285C933.7 291.7 929.3 297.1 925 302.5C920.7 307.9 912.9 312.9 910 317.5C907.1 322.1 906.7 326.2 907.5 330C908.3 333.8 910.8 337.5 915 340C919.2 342.5 925.8 344.2 932.5 345C939.2 345.8 947.1 346.2 955 345C962.9 343.8 972.1 340.8 980 337.5C987.9 334.2 996.7 329.6 1002.5 325C1008.3 320.4 1012.3 315.4 1015 310C1017.7 304.6 1018.2 299.2 1018.8 292.5C1019.4 285.8 1018.4 277.5 1018.8 270C1019.2 262.5 1019.5 255 1021 247.5C1022.5 240 1025.2 231.7 1027.5 225C1029.8 218.3 1031.7 212.9 1035 207.5C1038.3 202.1 1043.8 197.1 1047.5 192.5C1051.2 187.9 1056.2 184.2 1057.5 180C1058.8 175.8 1057.5 172.1 1055 167.5C1052.5 162.9 1047.1 157.5 1042.5 152.5C1037.9 147.5 1030 140 1027.5 137.5M1050 83.8C1052.9 83.2 1062.1 81.9 1067.5 80C1072.9 78.1 1078.8 75.8 1082.5 72.5C1086.2 69.2 1089.2 65.4 1090 60C1090.8 54.6 1087.9 43.3 1087.5 40M884 165C881.3 164.4 874.2 167.8 870 169.5C865.8 171.2 861.9 173.2 859 175.5C856.1 177.8 853.5 181 852.5 183.5C851.5 186 851.9 188.4 853 190.5C854.1 192.6 856.5 194.9 859 196C861.5 197.1 865 197.7 868 197C871 196.3 874.5 194.3 877 192C879.5 189.7 881.5 186.2 883 183C884.5 179.8 885.8 176 886 173C886.2 170 886.7 165.6 884 165ZM944.3 197.1C943.7 201.4 942 206.1 939.9 209.6C937.8 213.1 934.6 216.3 931.5 218.1C928.4 219.8 924.6 220.6 921.4 220.1C918.2 219.7 914.7 217.9 912.2 215.3C909.7 212.8 907.6 208.9 906.5 204.9C905.4 201 905.1 196 905.7 191.7C906.3 187.4 908 182.7 910.1 179.2C912.2 175.7 915.4 172.5 918.5 170.7C921.6 169 925.4 168.2 928.6 168.7C931.8 169.1 935.3 170.9 937.8 173.5C940.3 176 942.4 179.9 943.5 183.9C944.6 187.8 944.9 192.8 944.3 197.1ZM980 232.5C985.4 233.3 992.9 237.1 997.5 242.5C1002.1 247.9 1005.4 257.9 1007.5 265C1009.6 272.1 1010.8 278.3 1010 285C1009.2 291.7 1006.7 299.2 1002.5 305C998.3 310.8 991.7 316.2 985 320C978.3 323.8 969.2 325 962.5 327.5C955.8 330 950.4 333.3 945 335C939.6 336.7 934.2 337.9 930 337.5C925.8 337.1 922.1 335 920 332.5C917.9 330 916.2 326.2 917.5 322.5C918.8 318.8 923.8 315 927.5 310C931.2 305 937.1 299.2 940 292.5C942.9 285.8 942.9 277.1 945 270C947.1 262.9 949.2 255.4 952.5 250C955.8 244.6 960.4 240.4 965 237.5C969.6 234.6 974.6 231.7 980 232.5ZM991.6 282.5C991.6 285.6 990.8 289.1 989.4 291.8C988 294.4 985.7 297 983.3 298.5C980.9 300.1 977.8 301 975 301C972.2 301 969.1 300.1 966.7 298.5C964.3 297 962 294.4 960.6 291.8C959.2 289.1 958.4 285.6 958.4 282.5C958.4 279.4 959.2 275.9 960.6 273.2C962 270.6 964.3 268 966.7 266.5C969.1 264.9 972.2 264 975 264C977.8 264 980.9 264.9 983.3 266.5C985.7 268 988 270.6 989.4 273.2C990.8 275.9 991.6 279.4 991.6 282.5ZM910 233.8C904.1 233.8 891 237.8 884.7 240C878.4 242.2 875.3 244 872 247C868.7 250 866.8 253.1 865 257.8C863.2 262.6 863.8 270.5 861.5 275.5C859.2 280.5 855.1 284.4 851 288C846.9 291.6 840.9 293.8 836.7 297C832.5 300.2 828.4 304.2 826 307.5C823.6 310.8 822.8 313.2 822.5 316.5C822.2 319.8 822.6 324.3 824 327C825.4 329.7 827.4 331 831 332.5C834.6 334 840.2 335.6 845.5 336C850.8 336.4 857.1 336.2 863 335C868.9 333.8 875.2 331.9 881 329C886.8 326.1 892.2 322.3 897.5 317.5C902.8 312.7 908.4 303.6 912.5 300C916.6 296.4 919.4 299.7 922 296C924.6 292.3 927.2 284.3 928 278C928.8 271.7 928.3 264.3 927 258C925.7 251.7 922.8 244 920 240C917.2 236 915.9 233.8 910 233.8ZM903.5 286C903.5 288.8 902.7 291.9 901.4 294.3C900 296.7 897.8 299 895.5 300.4C893.2 301.8 890.2 302.6 887.5 302.6C884.8 302.6 881.8 301.8 879.5 300.4C877.2 299 875 296.7 873.6 294.3C872.3 291.9 871.5 288.8 871.5 286C871.5 283.2 872.3 280.1 873.6 277.7C875 275.3 877.2 273 879.5 271.6C881.8 270.2 884.8 269.4 887.5 269.4C890.2 269.4 893.2 270.2 895.5 271.6C897.8 273 900 275.3 901.4 277.7C902.7 280.1 903.5 283.2 903.5 286ZM855 311.7C855.7 313.2 856 315.2 855.6 317C855.3 318.7 854.3 320.7 853 322.2C851.7 323.7 849.8 325.2 847.9 326.1C846 326.9 843.7 327.5 841.7 327.5C839.7 327.5 837.6 327 836 326.1C834.4 325.2 833.1 323.8 832.4 322.3C831.7 320.8 831.4 318.8 831.8 317C832.1 315.3 833.1 313.3 834.4 311.8C835.7 310.3 837.6 308.8 839.5 307.9C841.4 307.1 843.7 306.5 845.7 306.5C847.7 306.5 849.8 307 851.4 307.9C853 308.8 854.3 310.2 855 311.7ZM928.4 367.5C927.5 368.5 925.9 369.2 924.2 369.2C922.5 369.3 920.2 368.8 918.2 367.9C916.2 367 913.9 365.5 912.1 363.9C910.3 362.3 908.6 360.1 907.5 358.2C906.4 356.3 905.6 354.1 905.5 352.4C905.4 350.8 905.9 349.1 906.8 348.1C907.7 347.1 909.3 346.4 911 346.4C912.7 346.3 915 346.8 917 347.7C919 348.6 921.3 350.1 923.1 351.7C924.9 353.3 926.6 355.5 927.7 357.4C928.8 359.3 929.6 361.5 929.7 363.2C929.8 364.8 929.3 366.5 928.4 367.5ZM1127.5 101C1124.6 102.5 1115.4 106.4 1110 110C1104.6 113.6 1098.8 117.9 1095 122.5C1091.2 127.1 1088.3 132.1 1087.5 137.5C1086.7 142.9 1088.6 149.2 1090 155C1091.4 160.8 1094.5 166.7 1096 172.5C1097.5 178.3 1099.4 183.8 1098.8 190C1098.2 196.2 1096 203.8 1092.5 210C1089 216.2 1082.9 222.1 1077.5 227.5C1072.1 232.9 1065.8 237.5 1060 242.5C1054.2 247.5 1046.7 252.1 1042.5 257.5C1038.3 262.9 1035.8 269.2 1035 275C1034.2 280.8 1035 287.5 1037.5 292.5C1040 297.5 1043.8 301.2 1050 305C1056.2 308.8 1066.7 312.5 1075 315C1083.3 317.5 1093.8 319.2 1100 320C1106.2 320.8 1107.1 320.7 1112.5 320C1117.9 319.3 1127.5 318.5 1132.5 316C1137.5 313.5 1140.4 310.2 1142.5 305C1144.6 299.8 1144.8 292.1 1145 285C1145.2 277.9 1143.4 270.4 1143.8 262.5C1144.2 254.6 1146.7 243.8 1147.5 237.5C1148.3 231.2 1147.8 230.4 1148.8 225C1149.8 219.6 1152.6 211.7 1153.8 205C1155 198.3 1156.2 192.1 1156 185C1155.8 177.9 1153.7 169.6 1152.5 162.5C1151.3 155.4 1149.9 149.2 1148.8 142.5C1147.7 135.8 1145.8 128.3 1146 122.5C1146.2 116.7 1146.8 111.2 1150 107.5C1153.2 103.8 1159.2 102.8 1165 100C1170.8 97.2 1179.6 94.3 1185 91C1190.4 87.7 1194.6 84.8 1197.5 80C1200.4 75.2 1201.5 69.5 1202.5 62.5C1203.5 55.5 1203.6 42.1 1203.8 38M1138.3 161.4C1137.7 164.7 1136.3 168.3 1134.6 171C1132.9 173.7 1130.4 176.1 1128 177.4C1125.6 178.7 1122.7 179.2 1120.3 178.8C1117.9 178.4 1115.3 176.9 1113.5 174.8C1111.7 172.8 1110.2 169.7 1109.5 166.6C1108.8 163.5 1108.7 159.6 1109.3 156.2C1109.9 152.9 1111.3 149.3 1113 146.6C1114.7 143.9 1117.2 141.5 1119.6 140.2C1122 138.9 1124.9 138.4 1127.3 138.8C1129.7 139.2 1132.3 140.7 1134.1 142.8C1135.9 144.8 1137.4 147.9 1138.1 151C1138.8 154.1 1138.9 158 1138.3 161.4ZM1115 225C1110.8 225.4 1105.4 228.3 1100 232.5C1094.6 236.7 1088.3 243.8 1082.5 250C1076.7 256.2 1069 265 1065 270C1061 275 1058.8 276.7 1058.8 280C1058.8 283.3 1060.6 286.8 1065 290C1069.4 293.2 1077.9 296.9 1085 299C1092.1 301.1 1100.8 302.3 1107.5 302.5C1114.2 302.7 1120.4 302.8 1125 300C1129.6 297.2 1133.2 292.2 1135 286C1136.8 279.8 1136.4 269.8 1136 262.5C1135.6 255.2 1134.3 247.9 1132.5 242.5C1130.7 237.1 1127.9 232.9 1125 230C1122.1 227.1 1119.2 224.6 1115 225ZM1264 120C1261.7 121.7 1254.4 127.5 1250 130C1245.6 132.5 1241 135 1237.5 135C1234 135 1231.7 132.5 1228.8 130C1225.9 127.5 1224 122.5 1220 120C1216 117.5 1210.8 115.4 1205 115C1199.2 114.6 1190.8 115.4 1185 117.5C1179.2 119.6 1173.8 122.9 1170 127.5C1166.2 132.1 1163.3 138.8 1162.5 145C1161.7 151.2 1163.3 159.2 1165 165C1166.7 170.8 1170 175 1172.5 180C1175 185 1178.6 189.2 1180 195C1181.4 200.8 1181.2 208.3 1181 215C1180.8 221.7 1181 228.8 1178.8 235C1176.5 241.2 1170.6 246.7 1167.5 252.5C1164.4 258.3 1160.4 264.2 1160 270C1159.6 275.8 1162.1 282.7 1165 287.5C1167.9 292.3 1172.9 297.4 1177.5 298.8C1182.1 300.2 1188.3 298.3 1192.5 296C1196.7 293.7 1200.2 289.8 1202.5 285C1204.8 280.2 1205.8 273.3 1206 267.5C1206.2 261.7 1204.4 255.4 1203.8 250C1203.2 244.6 1201.9 239.6 1202.5 235C1203.1 230.4 1206.1 225.4 1207.5 222.5C1208.9 219.6 1210.4 218.3 1211 217.5M1267 193C1268.2 191.8 1271.8 189 1274 186C1276.2 183 1279 176.8 1280 175M1204.5 155C1204.5 157.6 1203.8 160.4 1202.7 162.7C1201.6 164.9 1199.7 167 1197.8 168.3C1195.8 169.5 1193.2 170.3 1191 170.3C1188.8 170.3 1186.2 169.5 1184.2 168.3C1182.3 167 1180.4 164.9 1179.3 162.7C1178.2 160.4 1177.5 157.6 1177.5 155C1177.5 152.4 1178.2 149.6 1179.3 147.3C1180.4 145.1 1182.3 143 1184.2 141.7C1186.2 140.5 1188.8 139.7 1191 139.7C1193.2 139.7 1195.8 140.5 1197.8 141.7C1199.7 143 1201.6 145.1 1202.7 147.3C1203.8 149.6 1204.5 152.4 1204.5 155ZM1276 52.5C1273.3 52.2 1264.8 50.4 1260 51C1255.2 51.6 1250.7 52.8 1247.5 56C1244.3 59.2 1241.8 64.3 1241 70C1240.2 75.7 1241 84.2 1242.5 90C1244 95.8 1246.6 101.2 1250 105C1253.4 108.8 1260.8 111.7 1263 113M1268 244C1265 245 1255.5 247.3 1250 250C1244.5 252.7 1239.2 255.4 1235 260C1230.8 264.6 1227.5 271.7 1225 277.5C1222.5 283.3 1222.1 289.2 1220 295C1217.9 300.8 1215.8 307.1 1212.5 312.5C1209.2 317.9 1204.6 322.9 1200 327.5C1195.4 332.1 1188.5 335.4 1185 340C1181.5 344.6 1179.5 349.6 1178.8 355C1178.1 360.4 1178.7 367.1 1181 372.5C1183.3 377.9 1187.7 383.8 1192.5 387.5C1197.3 391.2 1204.6 394.2 1210 395C1215.4 395.8 1220.4 395 1225 392.5C1229.6 390 1234.2 384.6 1237.5 380C1240.8 375.4 1242.1 370.4 1245 365C1247.9 359.6 1250.8 353.3 1255 347.5C1259.2 341.7 1263.2 335.9 1270 330C1276.8 324.1 1291.7 315 1296 312M1266.6 295C1266.6 297.4 1266.1 300.2 1265.4 302.4C1264.6 304.5 1263.4 306.5 1262 307.7C1260.7 309 1259 309.7 1257.5 309.7C1256 309.7 1254.3 309 1253 307.7C1251.6 306.5 1250.4 304.5 1249.6 302.4C1248.9 300.2 1248.4 297.4 1248.4 295C1248.4 292.6 1248.9 289.8 1249.6 287.6C1250.4 285.5 1251.6 283.5 1253 282.3C1254.3 281 1256 280.3 1257.5 280.3C1259 280.3 1260.7 281 1262 282.3C1263.4 283.5 1264.6 285.5 1265.4 287.6C1266.1 289.8 1266.6 292.6 1266.6 295ZM1211 372.5C1211 373.5 1210.7 374.6 1210.2 375.5C1209.7 376.4 1208.9 377.2 1208 377.7C1207.1 378.2 1206 378.5 1205 378.5C1204 378.5 1202.9 378.2 1202 377.7C1201.1 377.2 1200.3 376.4 1199.8 375.5C1199.3 374.6 1199 373.5 1199 372.5C1199 371.5 1199.3 370.4 1199.8 369.5C1200.3 368.6 1201.1 367.8 1202 367.3C1202.9 366.8 1204 366.5 1205 366.5C1206 366.5 1207.1 366.8 1208 367.3C1208.9 367.8 1209.7 368.6 1210.2 369.5C1210.7 370.4 1211 371.5 1211 372.5ZM1125 345C1132.1 343.9 1141.2 343.5 1147.5 346C1153.8 348.5 1157.9 353.5 1162.5 360C1167.1 366.5 1170.4 377.5 1175 385C1179.6 392.5 1184.6 398.8 1190 405C1195.4 411.2 1202.5 417.1 1207.5 422.5C1212.5 427.9 1219.2 433.8 1220 437.5C1220.8 441.2 1217.5 443.6 1212.5 445C1207.5 446.4 1197.9 446.4 1190 446C1182.1 445.6 1172.1 444.8 1165 442.5C1157.9 440.2 1152.9 437.9 1147.5 432.5C1142.1 427.1 1137.9 417.9 1132.5 410C1127.1 402.1 1119.8 392.1 1115 385C1110.2 377.9 1105.5 372.9 1103.8 367.5C1102.1 362.1 1101.5 356.2 1105 352.5C1108.5 348.8 1117.9 346.1 1125 345ZM1130 360C1133.8 359.2 1138.3 360 1142.5 362.5C1146.7 365 1150.8 370 1155 375C1159.2 380 1163.3 387.1 1167.5 392.5C1171.7 397.9 1176.7 403.8 1180 407.5C1183.3 411.2 1186.3 411.8 1187.5 415C1188.7 418.2 1189.1 423.9 1187 427C1184.9 430.1 1179.1 433.3 1175 433.8C1170.9 434.3 1166.7 432.3 1162.5 430C1158.3 427.7 1154.6 425 1150 420C1145.4 415 1139.6 406.2 1135 400C1130.4 393.8 1125 387.9 1122.5 382.5C1120 377.1 1118.8 371.2 1120 367.5C1121.2 363.8 1126.2 360.8 1130 360ZM947.5 412.5C948.3 413.8 951.2 416.2 952.5 420C953.8 423.8 954.2 429.2 955 435C955.8 440.8 955.8 448.3 957.5 455C959.2 461.7 962.1 469.2 965 475C967.9 480.8 970.8 486.5 975 490C979.2 493.5 983.3 495.4 990 496C996.7 496.6 1007.5 496.1 1015 493.8C1022.5 491.6 1030 486.9 1035 482.5C1040 478.1 1041.7 471.7 1045 467.5C1048.3 463.3 1050.8 459.2 1055 457.5C1059.2 455.8 1064.2 456.2 1070 457.5C1075.8 458.8 1082.9 462.5 1090 465C1097.1 467.5 1105.4 471 1112.5 472.5C1119.6 474 1127.1 475.1 1132.5 473.8C1137.9 472.6 1142.5 469.4 1145 465C1147.5 460.6 1148.3 454.2 1147.5 447.5C1146.7 440.8 1144.2 432.5 1140 425C1135.8 417.5 1128.8 408.8 1122.5 402.5C1116.2 396.2 1110 391.7 1102.5 387.5C1095 383.3 1085.8 379.2 1077.5 377.5C1069.2 375.8 1060.8 376.4 1052.5 377.5C1044.2 378.6 1034.6 383.6 1027.5 383.8C1020.4 384 1016.2 381.1 1010 378.8C1003.8 376.5 993.3 371.5 990 370M1021 451C1021 455.3 1019.8 460.2 1017.9 464C1015.9 467.8 1012.6 471.3 1009.2 473.5C1005.9 475.7 1001.4 477 997.5 477C993.6 477 989.1 475.7 985.8 473.5C982.4 471.3 979.1 467.8 977.1 464C975.2 460.2 974 455.3 974 451C974 446.7 975.2 441.8 977.1 438C979.1 434.2 982.4 430.7 985.8 428.5C989.1 426.3 993.6 425 997.5 425C1001.4 425 1005.9 426.3 1009.2 428.5C1012.6 430.7 1015.9 434.2 1017.9 438C1019.8 441.8 1021 446.7 1021 451ZM1121.3 428C1120.3 431.8 1117.8 435.8 1114.7 438.4C1111.6 441.1 1107.2 443.3 1102.9 444.2C1098.6 445.1 1093.3 444.9 1088.9 443.7C1084.5 442.5 1079.9 440 1076.6 437.1C1073.3 434.2 1070.5 430.1 1069.2 426.3C1067.9 422.4 1067.7 417.7 1068.7 414C1069.7 410.2 1072.2 406.2 1075.3 403.6C1078.4 400.9 1082.8 398.7 1087.1 397.8C1091.4 396.9 1096.7 397.1 1101.1 398.3C1105.5 399.5 1110.1 402 1113.4 404.9C1116.7 407.8 1119.5 411.9 1120.8 415.7C1122.1 419.6 1122.3 424.3 1121.3 428ZM1264 549C1262.1 548.3 1255.7 546.9 1252.5 545C1249.3 543.1 1247.9 540.8 1245 537.5C1242.1 534.2 1239.2 528.1 1235 525C1230.8 521.9 1225.8 520 1220 518.8C1214.2 517.5 1205.8 518.3 1200 517.5C1194.2 516.7 1188.8 515.9 1185 513.8C1181.2 511.7 1178.5 508.6 1177.5 505C1176.5 501.4 1176.3 496.2 1178.8 492.5C1181.3 488.8 1186.5 484.6 1192.5 482.5C1198.5 480.4 1209.2 480 1215 480C1220.8 480 1223.8 480.4 1227.5 482.5C1231.2 484.6 1234.6 488.3 1237.5 492.5C1240.4 496.7 1242.1 503.3 1245 507.5C1247.9 511.7 1250 515.2 1255 517.5C1260 519.8 1271.7 520.4 1275 521M1222.5 507.5C1222.5 508.8 1222.1 510.2 1221.5 511.2C1220.9 512.3 1219.8 513.4 1218.8 514C1217.7 514.6 1216.2 515 1215 515C1213.8 515 1212.3 514.6 1211.2 514C1210.2 513.4 1209.1 512.3 1208.5 511.2C1207.9 510.2 1207.5 508.8 1207.5 507.5C1207.5 506.2 1207.9 504.8 1208.5 503.8C1209.1 502.7 1210.2 501.6 1211.2 501C1212.3 500.4 1213.8 500 1215 500C1216.2 500 1217.7 500.4 1218.8 501C1219.8 501.6 1220.9 502.7 1221.5 503.8C1222.1 504.8 1222.5 506.2 1222.5 507.5ZM1296 413C1294.2 412.9 1288.5 411.8 1285 412.5C1281.5 413.2 1277.5 413.8 1275 417.5C1272.5 421.2 1270.2 429.6 1270 435C1269.8 440.4 1271.7 445.7 1273.8 450C1275.9 454.3 1278.8 458.3 1282.5 461C1286.2 463.7 1293.8 465.2 1296 466M871 609C870.5 604.2 868 589.6 868 580.5C868 571.4 868.1 561.9 871 554.6C873.9 547.4 880.8 541.1 885.6 537C890.4 532.9 895.1 531.6 900 530C904.9 528.4 908.3 528.2 915 527.5C921.7 526.8 931.7 526 940 526C948.3 526 958.3 525.6 965 527.5C971.7 529.4 975 533.8 980 537.5C985 541.2 990 546.2 995 550C1000 553.8 1005.8 556.2 1010 560C1014.2 563.8 1017.9 567.5 1020 572.5C1022.1 577.5 1024.2 584.2 1022.5 590C1020.8 595.8 1015 602.1 1010 607.5C1005 612.9 997.1 617.5 992.5 622.5C987.9 627.5 985.2 631.7 982.5 637.5C979.8 643.3 978.5 651.7 976 657.5C973.5 663.3 971.2 668.2 967.5 672.5C963.8 676.8 956.2 681.2 954 683M915 572.5C917.2 575.9 922.5 580.6 927.5 582.5C932.5 584.4 939.6 584.6 945 583.8C950.4 583 956.7 580.2 960 577.5C963.3 574.8 965.4 571.2 965 567.5C964.6 563.8 960 558.1 957.5 555C955 551.9 953.8 550.5 950 549C946.2 547.5 940 545.4 935 546C930 546.6 923.5 549.8 920 552.5C916.5 555.2 914.8 558.7 914 562C913.2 565.3 912.8 569.1 915 572.5ZM1070 531C1063.8 531.6 1055 534.3 1050 537.5C1045 540.7 1041.5 544.6 1040 550C1038.5 555.4 1040.8 564.2 1041 570C1041.2 575.8 1039.9 578.8 1041 585C1042.1 591.2 1044.3 601.2 1047.5 607.5C1050.7 613.8 1055 618.3 1060 622.5C1065 626.7 1072.5 629.2 1077.5 632.5C1082.5 635.8 1086.2 638.3 1090 642.5C1093.8 646.7 1096.2 653.3 1100 657.5C1103.8 661.7 1107.5 665.4 1112.5 667.5C1117.5 669.6 1124.6 670.4 1130 670C1135.4 669.6 1140.8 667.9 1145 665C1149.2 662.1 1153.5 657.5 1155 652.5C1156.5 647.5 1155.5 640.8 1153.8 635C1152.1 629.2 1147.7 622.5 1145 617.5C1142.3 612.5 1137.5 609.6 1137.5 605C1137.5 600.4 1143.1 595 1145 590C1146.9 585 1149.2 580.4 1148.8 575C1148.4 569.6 1145.6 562.5 1142.5 557.5C1139.4 552.5 1135.4 548.3 1130 545C1124.6 541.7 1117.1 539.4 1110 537.5C1102.9 535.6 1094.2 534.9 1087.5 533.8C1080.8 532.7 1076.2 530.4 1070 531ZM1108.5 573.5C1108.5 577.8 1107.2 582.7 1105.1 586.5C1103 590.3 1099.5 593.8 1095.9 596C1092.2 598.2 1087.4 599.5 1083.2 599.5C1079 599.5 1074.2 598.2 1070.5 596C1066.9 593.8 1063.4 590.3 1061.3 586.5C1059.2 582.7 1057.9 577.8 1057.9 573.5C1057.9 569.2 1059.2 564.3 1061.3 560.5C1063.4 556.7 1066.9 553.2 1070.5 551C1074.2 548.8 1079 547.5 1083.2 547.5C1087.4 547.5 1092.2 548.8 1095.9 551C1099.5 553.2 1103 556.7 1105.1 560.5C1107.2 564.3 1108.5 569.2 1108.5 573.5ZM1164 690C1160.3 689 1158.7 691 1156 694C1153.3 697 1150.7 703 1148 708C1145.3 713 1141.7 720 1140 724C1138.3 728 1137 729 1138 732C1139 735 1142.3 738 1146 742C1149.7 746 1155 751.7 1160 756C1165 760.3 1170.7 764.8 1176 768C1181.3 771.2 1187 773.5 1192 775C1197 776.5 1201.2 778.2 1206 777C1210.8 775.8 1218 770.2 1221 768C1224 765.8 1223.7 767 1224 764C1224.3 761 1224 754.7 1223 750C1222 745.3 1220.5 740.3 1218 736C1215.5 731.7 1212.3 728 1208 724C1203.7 720 1197 716 1192 712C1187 708 1182.7 703.7 1178 700C1173.3 696.3 1167.7 691 1164 690ZM1197 735C1195.2 734.7 1190.2 735.8 1188 737C1185.8 738.2 1184 740.4 1184 742C1184 743.6 1186.2 746 1188 746.5C1189.8 747 1193.2 746.2 1195 745C1196.8 743.8 1198.2 740.7 1198.5 739C1198.8 737.3 1198.8 735.3 1197 735ZM1197 686C1198.2 688.3 1201.2 695 1204 700C1206.8 705 1210.3 710.7 1214 716C1217.7 721.3 1222.3 727 1226 732C1229.7 737 1233.2 741.5 1236 746C1238.8 750.5 1241.8 756.8 1243 759M1250 680C1247 680 1236.7 679 1232 680C1227.3 681 1224.7 683 1222 686C1219.3 689 1216.7 694 1216 698C1215.3 702 1216.3 705.7 1218 710C1219.7 714.3 1223 720 1226 724C1229 728 1232.7 730.8 1236 734C1239.3 737.2 1244.3 741.5 1246 743M1201.3 642C1201.3 642.7 1201.1 643.5 1200.9 644.1C1200.6 644.8 1200.1 645.4 1199.7 645.7C1199.2 646.1 1198.5 646.3 1198 646.3C1197.5 646.3 1196.8 646.1 1196.3 645.7C1195.9 645.4 1195.4 644.8 1195.1 644.1C1194.9 643.5 1194.7 642.7 1194.7 642C1194.7 641.3 1194.9 640.5 1195.1 639.9C1195.4 639.2 1195.9 638.6 1196.3 638.3C1196.8 637.9 1197.5 637.7 1198 637.7C1198.5 637.7 1199.2 637.9 1199.7 638.3C1200.1 638.6 1200.6 639.2 1200.9 639.9C1201.1 640.5 1201.3 641.3 1201.3 642ZM1237 667 L1247 667M1172 796C1174 797 1179.3 800.7 1184 802C1188.7 803.3 1195.3 804 1200 804C1204.7 804 1208.5 803.2 1212 802C1215.5 800.8 1219.5 797.8 1221 797M1286 806C1285 807.7 1281.3 813 1280 816C1278.7 819 1276.3 822.2 1278 824C1279.7 825.8 1284.7 825.5 1290 827C1295.3 828.5 1303.3 830.7 1310 833C1316.7 835.3 1325 839.3 1330 841C1335 842.7 1338.3 842.7 1340 843M1423 794C1422.2 795.7 1420.5 801.1 1418.5 804C1416.5 806.9 1414.5 808 1411 811.5C1407.5 815 1403.5 820.5 1397.5 825C1391.5 829.5 1380.2 835.5 1375 838.5C1369.8 841.5 1367.5 842.2 1366 843M1443 780 L1448.5 793M1431 813 L1436 819" fill="none" stroke="#808080" stroke-width="7" stroke-linecap="round" stroke-linejoin="round"/>
<text x="562.5" y="379.8" transform="rotate(78 562.5 379.8)" font-size="41" fill="#808080" text-anchor="middle" dominant-baseline="central">10</text>
<text x="822.5" y="303" transform="rotate(-89 822.5 303)" font-size="41" fill="#808080" text-anchor="middle" dominant-baseline="central">10</text>
<text x="845.2" y="185.5" transform="rotate(-86.5 845.2 185.5)" font-size="41" fill="#808080" text-anchor="middle" dominant-baseline="central">10</text>
<text x="1029.7" y="107.7" transform="rotate(-63 1029.7 107.7)" font-size="41" fill="#808080" text-anchor="middle" dominant-baseline="central">10</text>
<text x="1141.5" y="63.5" transform="rotate(-72 1141.5 63.5)" font-size="41" fill="#808080" text-anchor="middle" dominant-baseline="central">-10</text>
<text x="960.4" y="383.6" transform="rotate(-43 960.4 383.6)" font-size="41" fill="#808080" text-anchor="middle" dominant-baseline="central">-10</text>
<text x="1241.7" y="204" transform="rotate(-13 1241.7 204)" font-size="41" fill="#808080" text-anchor="middle" dominant-baseline="central">10</text>
<text x="1207.7" y="671.3" transform="rotate(-12 1207.7 671.3)" font-size="41" fill="#808080" text-anchor="middle" dominant-baseline="central">10</text>
<path d="M210 405 L218 405.5 L240 410 L247.5 414.5 L257.5 407.5 L277.5 402.5 L290 401 L320 400M320 347.5 L320 442.5 L316 442.5 L316 460 L321 461 L321 507.5M320 393.5 L422.5 395M406.5 347.5 L406.5 394M316 442.5 L415 444M422.5 395 L415 410 L422.5 412.5 L422.5 420 L415 422.5 L415 444M415 444 L414 480 L402.5 495 L397.5 507.5M422.5 420 L455 421 L452.5 430 L482.5 430 L502.5 427.5 L502.5 412.5 L565 412.5 L570 415 L645 415M524 365 L524 412.5M649 367.5 L645 415 L642.5 440 L647.5 450 L645 475 L657.5 487.5 L667.5 501M195 497.5 L202.5 502.5 L215 505 L225 512.5 L232.5 522.5 L242.5 525 L260 517.5 L277.5 515 L290 510 L321 507.5M207.5 504 L207.5 605M321 507.5 L457.5 509M350 509 L350 605M482.5 430 L485 445 L480 450 L482.5 475 L502.5 477.5 L502.5 497.5M457.5 509 L457.5 497.5 L470 497.5 L565 497.5 L567.5 512.5 L574 512.5M452.5 509 L452.5 605M527.5 480 L532.5 465 L592.5 464M592.5 464 L597.5 450 L595 425 L602.5 415M592.5 464 L600 475 L607.5 490 L610 505 L612.5 517.5M574 512.5 L574 550 L600 552.5 L600 605M612.5 504 L650 502.5 L652.5 550 L677.5 550 L677.5 605M650 502.5 L667.5 501M660 489 L732.5 489M732.5 450 L732.5 527.5M692.5 375 L689 395 L690 420 L695 447.5 L732.5 450M692.5 375 L730 374 L735 377.5 L745 370 L785 385 L790 400M790 400 L800 405 L802.5 459 L732.5 460M677.5 550 L705 550 L705 545 L732.5 544 L737.5 535 L727.5 530 L732.5 527.5M732.5 527.5 L760 530 L758 545 L762 560 L759 580 L762.5 605M816 159 L940 217 L996 214 L1055 211 L1105 209 L1138.8 205M885.6 191 L876 213.8 L876 217.5 L874 228.8 L865 236 L856 236 L830 252.5 L812.5 254 L812.5 270 L824 271 L825 330M745 289 L777.5 291 L778 287.5 L825 288.8M1021 43.8 L1036 52 L1057.5 200 L1054 211M1151 43.8 L1158.8 96 L1163.8 97.5 L1168.8 123.8 L1172.5 148M1172.5 148 L1225 145.5 L1245 138.5 L1262.5 126.5M1132 152.5 L1172.5 148M1132 152.5 L1138.8 204M1105 209 L1108 232.5 L1093.8 243.8 L1115 265 L1130 263.8 L1143.8 269 L1145 275 L1116 281M1116 281 L1253.8 267.5 L1268.8 266M940 217 L946 303 L951 355M996 214 L1010 322.5 L1000 340 L992.5 353.8M946 304 L867.5 339 L825 329M815.5 328.4 L805 358.7 L801 387 L803 469 L813.8 557.7 L849 559.5 L851 566.6 L892 568.4M780 383.5 L787 385 L789 399.5 L801 387M815.5 376.4 L840 393.8 L850 407.5 L865 410 L867.5 427.5 L886 430 L887.5 442.5 L927.5 442.5M803 469 L915 463M951 355 L937.5 365 L938.8 372.5 L952 374.6 L925 407.5 L927.5 442.5 L915 462.5 L907.5 485 L895 510 L895.5 534.6 L890 568.4 L893 603M992.5 353.8 L1022.5 365 L1023.8 383.8 L1012.5 400 L1013.8 442.5M1022.5 365 L1052.5 375 L1095 372.5 L1096 377.5 L1115 377.5 L1126 371 L1130 371M947.5 436 L983.8 450 L987.5 438.8 L1013.8 442.5 L1052.5 451 L1107.5 457.5M1013.8 410 L1052.5 421 L1137.5 421M1137.5 421 L1098.8 465 L1108.8 471 L1125 468.8 L1192.5 457.5 L1200 453.8 L1215 457.5M1125 468.8 L1123.8 485 L1113.8 500 L1106 527.5 L1110 528.8M1031 451 L1037.5 482.5 L1023.8 508.8M895 510 L960 525 L975 515 L1023.8 508.8 L1065 535 L1072.5 540M1226 420 L1217.5 437.5 L1212.5 457.5 L1200 495 L1196 517.5 L1193.8 550 L1177.5 567.5 L1171 580 L1167.5 590 L1162.5 620 L1167.5 645 L1160 670 L1165 690M1196 518.8 L1275 510M1107.5 528.8 L1196 518M1168.8 590 L1210 603.8 L1242.5 608.8 L1243.8 596 L1252.5 596M1217.5 427.5 L1262.5 426 L1291 428.8M1116 281 L1126 347.5 L1136 425M1126 347.5 L1177.5 343.8 L1187.5 367.5 L1197.5 372.5 L1215 365 L1230 361M1230 361 L1222.5 312.5 L1253.8 272.5M1230 361 L1236 400 L1225 425M1073.8 541 L1057.5 566 L1058 575 L1012 602.6 L944.6 632.9M1058 575 L1069.8 573.8 L1100 583.4 L1142.5 586 L1150 573.8 L1157.5 572.5 L1171 580M1012 602.6 L1069.8 630 L1049 652 L1083.5 672.8 L1086 681M1086 681 L1072.5 692 L1067 696 L1014.8 700 L1013.4 714M1086 681 L1108 674 L1112.4 679.6 L1133 683.8 L1134.4 679.6 L1145.4 681 L1146.8 683.8 L1163 682.4M1165 690 L1157.8 697.5 L1160.5 710 L1164.6 722 L1163 741.5 L1174 760.8 L1175.6 793M1166 703 L1243 692M1163 732 L1240 723.6M1113.8 765 L1163 732M1254 808 L1267 858M1206 830 L1211 845 L1208 858 L1206 866M1163 843 L1170 850 L1178 858 L1182 860M1174 812 L1190 820M1172 812 L1168 830" fill="none" stroke="#222" stroke-width="0.6"/>
</g>
<path d="M45 605.5 L45 566 L47.5 564.3 L77.5 553.8 L137.5 527.5 L150 516.3 L172.5 505.5 L191.3 502.5 L198.8 489.5 L207.5 484.5 L212.5 475 L225 470 L248.8 458 L246.3 448.8 L238 437 L236.3 427.5 L217.5 421.3 L218.8 412.5 L218 405.5 L208 403 L208 396.3 L213 390.8 L210.5 385 L207.5 368 L297.5 349.5 L337.5 346.3 L362.5 350 L390 346.3 L440 352.5 L461 356 L472.5 365 L494 374.5 L525 365 L585 365 L601 367.5 L615 362.5 L632.5 361 L645 354 L655 350 L667.5 340 L682.5 330 L703.8 321 L727.5 321 L740 316 L743.8 305 L742.5 285 L738.8 265 L726 261 L728.8 255 L737.5 252.5 L738.8 255 L747.5 253.8 L757.5 247.5 L760 237.5 L745 236 L742.5 231 L733.8 236 L728.8 226 L726 218.8 L721 216 L713.8 208.8 L733.8 196 L752.5 188.8 L777.5 180 L790 172.5 L805 161 L817.5 156 L825 148 L822 143 L831 128 L852 115.5 L915 72 L934.5 65 L985.5 43.5 L1000.5 40 L1008 43.8 L1277.5 40.5 L1280.5 53 L1270 55 L1272.5 61 L1268.8 67.5 L1271 77.5 L1276 77.5 L1273.8 86 L1266 88.8 L1272.5 93.8 L1272 100 L1262.5 96 L1261 116 L1266 128.8 L1268.8 141 L1267.5 152.5 L1272 150 L1271 157.5 L1278.8 170 L1281 180 L1275 190 L1263.8 196 L1266 202.5 L1260 215 L1257.5 225 L1261 228.8 L1263 225 L1266 232.5 L1267.5 247.5 L1271 258.8 L1268.8 265 L1276 272.5 L1276 281 L1268.8 287.5 L1263.8 300 L1263.8 308.8 L1268.8 311 L1275 300 L1285 300 L1286 308.8 L1295 311 L1296.8 325 L1296 350 L1293.8 400 L1292.5 420 L1291 452.5 L1294.5 465 L1275 515 L1262.5 550 L1250 586 L1253 595 L1252 620 L1246 660 L1240 738 L1253 752 L1207 774 L1221 794 L1216 801 L1198 808 L1190 818 L1186 824 L1190 826 L1184 829 L1168 836 L1160 845 L1154 849 L1154 841 L1168 820 L1173 806 L1174 793 L1027 727.5 L1026 722.5 L1020 712.5 L1015 718.8 L1007.5 711 L1005 713.8 L992.5 711 L982.5 702.5 L972.5 705 L966 695 L953.8 681 L960 670 L953.8 662.5 L958.8 660 L956 651 L948.8 648.8 L953.8 642.5 L950 640 L943.8 632.5 L938.8 633.8 L933.8 630.8 L926 633.8 L920 627.5 L916 618.8 L906 613.8 L905 608.8 L897.5 605.8ZM1153 874 L1150 864 L1157 850 L1166 840 L1174 834 L1180 836 L1188 831 L1202 836 L1200 824 L1210 828 L1208 819 L1220 825 L1225 812 L1244 808 L1247 812 L1240 814.4 L1252 814 L1249 805 L1260 805 L1261 811 L1272 811 L1268 802 L1280 807 L1300 811 L1315 804 L1315 799 L1360 798.3 L1394.5 798.3 L1417 793.5 L1430.5 786 L1441 782 L1448.5 776.7 L1453 776.7 L1466.5 767 L1487.5 764.5 L1467 768 L1463.5 771.7 L1450 781.5 L1450 784.5 L1455 786 L1448.5 788 L1450 795.7 L1444 792 L1441 795.7 L1434 797 L1423 805.5 L1412.5 808.5 L1420 811.5 L1424.5 808.5 L1430.5 811 L1444 811 L1450 802 L1454.5 801.7 L1459.7 795.7 L1471 792.7 L1468 786 L1474 790.5 L1482 792.7 L1483 786.7 L1495 786 L1500 783 L1513.7 795.7 L1520.5 789.7 L1529.5 789 L1534 783.7 L1541.5 782 L1542 779 L1547.5 777 L1561 780 L1513.7 797 L1465 816 L1420 828.7 L1410 828 L1390 833 L1380 834 L1368 842 L1360 840 L1340 840 L1320 845 L1316 848 L1300 846 L1266 858 L1240 862 L1218 867 L1215 864 L1206 867 L1200 864 L1190 858 L1182 860 L1175 867 L1172 871ZM1459.7 780 L1468 773 L1475.5 777 L1478.5 786 L1471 783ZM1524 746 L1528 743 L1544.5 739.5 L1531 746ZM1111 880 L1119 874 L1121 868 L1128 861 L1140 862 L1147 867 L1143 874 L1132 881 L1112 887ZM752.5 178.8 L770 174.5 L765 181 L757.5 183ZM1168 877 L1200 869M1206 870.4 L1260 867 L1297 858M1286 864 L1340 853 L1420 829" fill="none" stroke="#000" stroke-width="2.2" stroke-linejoin="round"/>
<path d="M1155.6 892.3L1156.6 896" stroke="#000" stroke-width="1.6" stroke-linecap="round"/>
<rect x="1336" y="131" width="91" height="477.4" fill="url(#cb)"/>
<text x="1473.5" y="606.0" font-size="29" text-anchor="middle" dominant-baseline="central">-40</text>
<text x="1473.5" y="566.7" font-size="29" text-anchor="middle" dominant-baseline="central">-30</text>
<text x="1473.5" y="527.4" font-size="29" text-anchor="middle" dominant-baseline="central">-20</text>
<text x="1473.5" y="488.1" font-size="29" text-anchor="middle" dominant-baseline="central">-10</text>
<text x="1473.5" y="448.8" font-size="29" text-anchor="middle" dominant-baseline="central">0</text>
<text x="1473.5" y="409.5" font-size="29" text-anchor="middle" dominant-baseline="central">10</text>
<text x="1473.5" y="370.2" font-size="29" text-anchor="middle" dominant-baseline="central">20</text>
<text x="1473.5" y="330.9" font-size="29" text-anchor="middle" dominant-baseline="central">30</text>
<text x="1473.5" y="291.6" font-size="29" text-anchor="middle" dominant-baseline="central">40</text>
<text x="1473.5" y="252.3" font-size="29" text-anchor="middle" dominant-baseline="central">50</text>
<text x="1473.5" y="213.0" font-size="29" text-anchor="middle" dominant-baseline="central">60</text>
<text x="1473.5" y="173.7" font-size="29" text-anchor="middle" dominant-baseline="central">70</text>
<text x="1473.5" y="134.4" font-size="29" text-anchor="middle" dominant-baseline="central">80</text>
<text x="45.3" y="676.8" font-size="41.8" textLength="839.3" lengthAdjust="spacingAndGlyphs">24 Hour 5-50 cm Moisture Percentile Change</text>
<text x="45.2" y="746.2" font-size="32.9" textLength="732.5" lengthAdjust="spacingAndGlyphs">Figure created on Mon, 2026-01-26, at 20:05 UTC</text>
<text x="46" y="797.9" font-size="32.9" textLength="471" lengthAdjust="spacingAndGlyphs">Station Count: 89 Stations Used</text>
<text x="45.5" y="865.3" font-size="24.2" textLength="1057" lengthAdjust="spacingAndGlyphs">Past 3 Years Considered. Percentiles Contoured: -50%, -25%, -10%, +10%, +25%, +50%, &amp; +75%</text>
<filter id="fat" x="100" y="90" width="320" height="90" filterUnits="userSpaceOnUse"><feMorphology operator="dilate" radius="1.4 0"/></filter>
<filter id="fat2" x="100" y="90" width="320" height="90" filterUnits="userSpaceOnUse"><feMorphology operator="dilate" radius="0.5 0"/></filter>
<path d="M50.5 144 L68.8 131.2 L73.4 122 L69.8 116.5 L70.7 110.1 L83.5 106.4 L100 108.3 L107.3 111 L122 110.1 L131.2 107.3 L136.7 102.8 L142.2 98.2 L140.3 91.8 L136.7 88.1 L138.5 83.5 L140.3 79.8 L145.8 75.3 L151.3 72.5 L155 65.2 L164.2 57.8 L175.2 52 L210.9 50.5 L211.8 59.7 L212.8 70.7 L210 81.7 L211.8 94.5 L214.6 100 L215.5 125.7 L210.9 144 L210 162.3 L210.9 180.7 L206.3 186.2 L207.3 191.7 L221 189.8 L235.7 186.2 L246.7 179.8 L253.5 176.8 L253 183 L239.3 193.5 L221 199 L200.8 202.7 L193.5 205.4 L199.9 197.2 L201.8 189.8 L199 186.2 L184.3 177 L171.5 169.7 L170.6 162.3 L164.2 155 L162.3 154.1 L50.5 151.3Z" fill="#eeab00"/>
<g filter="url(#fat)">
<text x="134.4" y="147.8" font-size="57" font-weight="bold" letter-spacing="-3" fill="#fff" textLength="69.4" lengthAdjust="spacingAndGlyphs">NYS</text>
<text x="219.6" y="147.9" font-size="57" font-weight="bold" letter-spacing="-3" fill="#512a6e" textLength="164.9" lengthAdjust="spacingAndGlyphs">Mesonet</text>
</g>
<text x="221.8" y="169" font-size="17.8" font-weight="bold" fill="#512a6e" textLength="164.8" lengthAdjust="spacingAndGlyphs">UNIVERSITY AT ALBANY</text>
</svg>
</body></html>
